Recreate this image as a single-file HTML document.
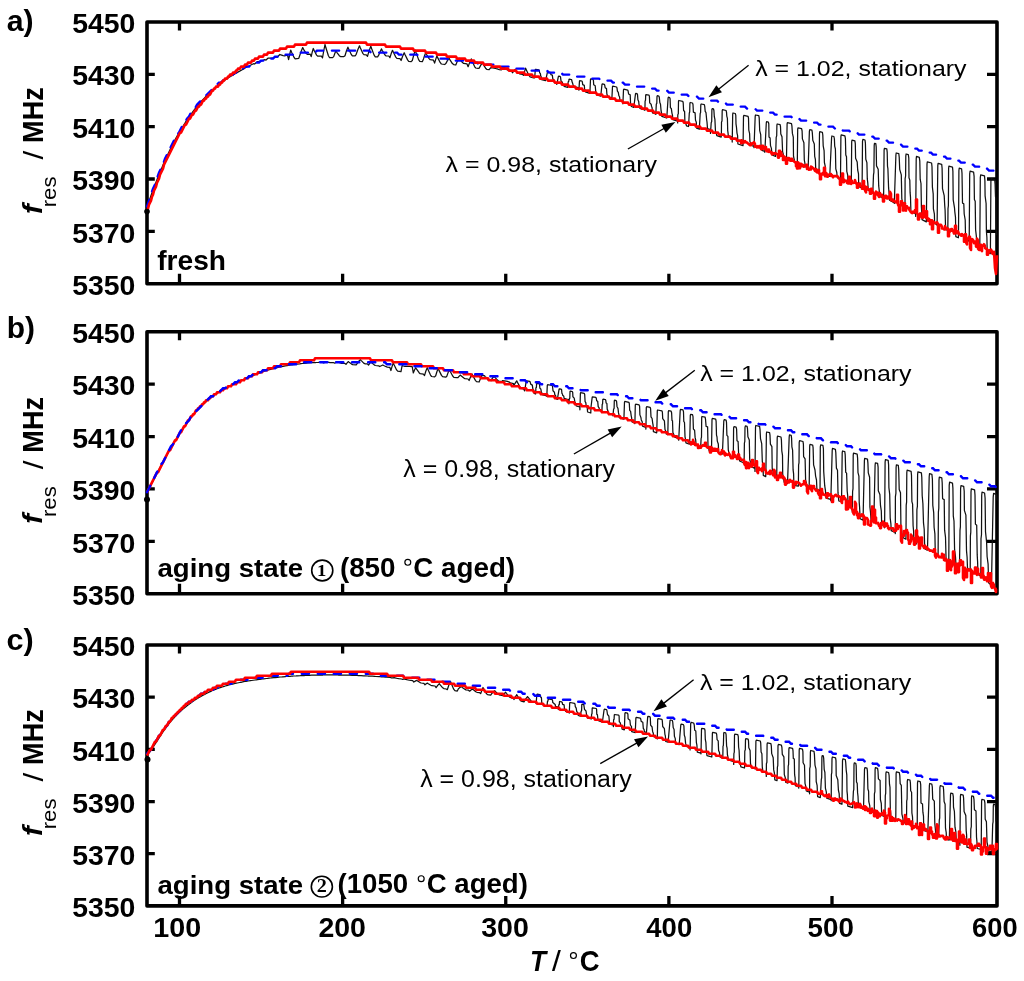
<!DOCTYPE html>
<html><head><meta charset="utf-8"><style>
html,body{margin:0;padding:0;background:#fff;width:1024px;height:981px;overflow:hidden}
svg{display:block;position:absolute;left:0;top:0}
text{-webkit-font-smoothing:antialiased}
</style></head><body>
<svg width="1024" height="981" viewBox="0 0 1024 981">
<rect x="147.00" y="22.00" width="850.00" height="261.70" fill="none" stroke="#000" stroke-width="3.6" stroke-linejoin="round"/>
<path d="M179.50,22.00v8.4M179.50,283.70v-9.9M342.62,22.00v8.4M342.62,283.70v-9.9M505.75,22.00v8.4M505.75,283.70v-9.9M668.88,22.00v8.4M668.88,283.70v-9.9M832.00,22.00v8.4M832.00,283.70v-9.9M147.00,74.34h7.8M997.00,74.34h-10M147.00,126.68h7.8M997.00,126.68h-10M147.00,179.02h7.8M997.00,179.02h-10M147.00,231.36h7.8M997.00,231.36h-10" stroke="#000" stroke-width="3.3" fill="none"/>
<clipPath id="cp0"><rect x="145.0" y="22.0" width="854.0" height="261.7"/></clipPath>
<g clip-path="url(#cp0)" fill="none">
<path d="M147.8 204.9 151.0 195.5 152.2 192.3 153.5 188.7 154.8 185.3 155.7 182.9 158.2 176.4 159.4 173.6 162.5 166.2 163.6 163.5 165.2 160.0 166.7 156.6 167.6 154.7 170.1 149.5 171.3 147.1 173.9 142.1 175.0 139.9 176.1 137.9 177.2 135.9 178.2 134.2 180.7 129.9 181.8 128.0 185.3 122.5 186.4 120.7 188.0 118.5 189.5 116.3 190.4 115.0 192.9 111.6 194.0 110.1 196.7 106.7 197.8 105.3 199.2 103.6 200.7 102.0 201.6 101.0 204.1 98.3 205.2 97.1 208.1 94.2 209.2 93.1 210.4 92.0 211.5 90.9 212.4 90.1 214.9 87.9 216.1 87.0 219.5 84.2 220.6 83.4 221.9 82.4 223.2 81.4 224.1 80.8 226.6 79.1 227.7 78.3 230.8 76.3 231.9 75.6 233.1 74.9 234.3 74.2 235.2 73.7 237.7 72.3 238.8 71.6 242.2 69.7 243.3 69.2 244.6 68.3 245.9 67.4 246.8 67.0 249.3 65.8 250.4 65.2 253.5 63.7 254.6 64.0 256.0 62.8 257.3 61.7 258.2 61.6 260.7 61.2 261.8 60.9 264.8 59.7 266.0 60.1 267.1 59.0 268.2 58.0 269.1 58.0 271.6 58.1 272.7 58.0 276.2 57.0 277.3 57.2 278.6 55.8 279.9 54.5 280.8 54.8 283.2 55.6 284.4 55.8 287.5 55.2 288.6 59.7 289.7 54.5 290.7 50.1 291.6 52.3 294.1 57.5 295.2 58.8 298.8 58.3 299.9 55.0 301.3 51.0 302.7 47.6 303.6 49.3 306.1 53.4 307.2 54.4 310.1 54.1 311.2 56.6 312.2 52.2 313.3 48.5 314.2 50.5 316.6 55.1 317.8 56.2 321.3 56.0 322.5 57.9 323.8 50.5 325.0 44.5 325.9 47.8 328.4 55.7 329.6 57.7 332.6 57.6 333.7 56.6 334.8 53.5 335.9 50.8 336.8 52.3 339.3 55.7 340.4 56.6 343.9 56.6 345.0 55.7 346.4 51.0 347.9 47.2 348.8 49.3 351.3 54.5 352.4 55.8 355.1 55.9 356.2 54.3 357.8 49.7 359.5 45.8 360.4 48.0 362.8 53.3 364.0 54.7 366.3 54.8 367.5 56.3 369.1 50.7 370.8 46.2 371.7 48.8 374.1 55.1 375.3 56.8 377.6 56.9 378.7 55.2 380.1 51.7 381.4 48.9 382.3 50.6 384.8 54.7 385.9 55.8 388.8 56.0 389.9 57.7 391.2 53.6 392.5 50.3 393.4 52.3 395.8 57.1 396.9 58.3 400.0 58.6 401.1 60.5 402.6 56.2 404.2 52.7 405.1 54.8 407.6 59.9 408.7 61.3 411.2 61.6 412.3 60.5 413.8 54.8 415.3 50.2 416.2 52.9 418.6 59.6 419.8 61.3 422.3 61.7 423.5 58.9 424.6 55.5 425.7 52.8 426.6 54.5 429.1 58.6 430.2 59.7 433.5 60.2 434.6 63.1 435.8 59.1 436.9 55.9 437.8 57.9 440.3 62.7 441.4 64.0 444.7 64.5 445.8 63.6 447.4 60.6 449.1 58.3 450.0 59.9 452.4 63.6 453.6 64.6 455.8 65.0 456.9 62.3 458.1 60.1 459.2 58.3 460.1 59.5 462.5 62.6 463.6 63.4 467.0 63.9 468.1 66.7 469.7 62.4 471.3 58.9 472.2 61.2 474.6 66.6 475.7 68.0 478.1 68.4 479.2 68.1 480.8 65.1 482.3 62.7 483.2 64.3 485.6 68.2 486.7 69.3 489.2 69.7 490.3 68.2 490.5 67.9 490.9 68.0 491.1 67.6 491.5 67.6 495.3 68.3 495.7 68.4 496.0 68.6 497.5 68.9 498.1 69.3 498.8 69.4 499.3 69.6 501.3 69.8 501.4 69.3 502.5 67.9 503.5 66.8 504.4 67.6 506.8 69.6 508.0 70.2 511.4 70.7 512.5 72.8 513.8 70.9 515.1 69.5 516.0 70.6 518.4 73.1 519.5 73.8 522.5 74.4 523.6 75.3 524.6 71.4 525.6 68.2 526.5 70.2 528.9 75.4 530.1 76.9 533.6 77.8 534.7 77.8 535.3 69.6 535.7 69.3 538.8 69.8 539.2 70.4 539.7 72.8 540.4 73.7 540.7 75.9 541.2 76.8 541.5 79.6 545.6 80.7 545.7 80.1 547.4 72.3 547.8 72.0 550.2 72.4 550.6 73.1 550.9 74.7 552.3 75.2 552.8 78.9 553.9 79.8 554.2 82.4 556.7 83.1 556.8 84.4 558.4 76.4 558.7 76.1 560.0 76.3 560.5 76.9 561.0 80.9 562.3 82.3 562.8 84.0 563.6 85.0 564.1 86.4 567.7 87.4 567.8 84.8 568.3 81.5 568.8 81.3 569.0 79.3 569.3 79.2 571.3 79.5 571.7 80.0 572.2 82.3 572.6 83.1 573.2 85.3 573.8 86.0 574.2 86.6 578.8 87.9 578.9 90.1 579.5 80.9 579.8 80.6 581.9 81.0 582.3 81.7 582.7 84.6 584.3 85.4 584.6 88.9 585.0 89.9 585.4 91.9 589.8 93.3 589.9 93.0 590.5 79.4 590.8 78.9 593.0 79.4 593.4 80.3 593.7 84.8 595.2 85.7 595.8 92.0 596.4 93.4 596.8 95.0 600.8 96.2 600.9 94.7 602.0 84.3 602.4 83.9 604.3 84.4 604.7 85.1 605.2 87.8 606.5 88.6 606.9 94.3 607.4 95.3 607.9 96.8 611.8 98.0 611.9 98.3 612.5 86.6 612.8 86.2 616.6 87.0 617.0 87.9 617.4 91.1 618.3 92.4 618.9 95.8 619.6 97.0 620.0 100.8 622.8 101.7 622.9 103.8 623.5 89.7 623.8 89.2 627.7 90.1 628.1 91.1 628.6 94.0 630.2 94.9 630.6 104.0 631.0 105.4 631.4 106.5 633.8 107.3 633.9 106.5 635.5 93.8 635.8 93.4 637.0 93.6 637.5 94.6 637.9 99.7 638.7 101.5 639.0 104.6 639.6 105.9 639.9 108.5 644.7 110.0 644.9 110.3 645.1 101.0 645.5 100.3 645.7 95.1 646.0 94.6 649.0 95.1 649.4 96.2 649.7 102.9 651.1 104.2 651.5 106.2 652.1 107.7 652.4 112.8 655.7 113.9 655.8 114.4 656.3 104.1 656.8 103.3 657.0 96.4 657.3 95.7 658.8 96.0 659.3 97.3 659.8 102.5 660.5 104.2 661.1 111.0 661.5 112.7 661.8 116.4 666.7 118.0 666.8 117.6 668.1 98.0 668.4 97.2 669.6 97.5 670.1 98.8 670.4 107.7 671.3 108.4 672.0 113.3 672.5 115.2 672.8 119.6 677.6 121.2 677.7 122.9 677.8 114.8 678.3 113.8 678.5 101.4 678.8 100.5 682.7 101.3 683.2 102.8 683.6 110.5 684.6 111.5 684.9 121.7 685.9 124.0 686.5 125.8 688.5 126.5 688.6 125.5 689.3 113.0 689.7 112.0 689.9 103.4 690.2 102.5 692.5 103.0 693.0 104.5 693.4 112.2 695.1 112.9 695.5 120.1 696.3 122.3 696.6 128.2 699.4 129.2 699.5 125.9 700.2 113.4 700.6 112.4 700.8 104.8 701.2 104.0 704.3 104.6 704.7 106.1 705.2 111.4 706.0 112.7 706.7 120.0 707.0 122.0 707.5 128.6 710.3 129.6 710.5 133.4 711.2 122.7 711.7 121.6 711.9 109.5 712.2 108.6 713.5 108.8 713.9 110.5 714.3 116.5 714.9 119.4 715.5 131.7 716.5 134.2 716.8 135.6 721.2 137.1 721.4 133.5 721.5 122.1 722.0 121.0 722.2 110.6 722.5 109.7 726.1 110.5 726.5 112.1 726.8 116.1 727.4 118.4 727.7 130.5 728.0 132.6 728.3 135.8 732.1 137.1 732.2 142.1 732.7 114.1 733.0 113.0 735.3 113.5 735.8 115.4 736.0 123.8 736.5 127.5 737.0 133.1 737.6 135.7 737.9 144.0 743.0 145.7 743.1 142.8 743.5 116.4 743.8 115.4 748.1 116.4 748.5 118.1 748.8 130.2 749.6 133.6 749.9 141.4 750.9 144.0 751.4 145.5 753.9 146.3 754.0 147.7 755.2 116.3 755.5 115.0 758.8 115.7 759.2 117.8 759.7 130.7 760.7 134.6 761.0 144.5 761.6 147.4 761.9 150.4 764.7 151.4 764.8 152.3 766.3 122.8 766.6 121.6 768.3 122.0 768.8 124.0 769.0 137.0 770.1 138.0 770.5 145.6 771.4 148.4 772.0 155.0 775.6 156.4 775.7 153.4 776.2 137.2 776.7 135.9 776.9 125.1 777.2 124.0 780.1 124.6 780.5 126.6 780.8 134.0 782.0 136.8 782.6 151.7 783.4 154.6 783.8 157.0 786.4 158.2 786.5 157.9 787.1 124.0 787.4 122.7 791.5 123.6 791.9 125.9 792.4 133.4 793.3 137.2 793.5 156.2 794.2 159.5 794.7 161.7 797.2 162.8 797.3 163.5 797.7 129.2 798.0 127.8 801.6 128.7 802.1 131.0 802.4 138.9 803.9 142.8 804.3 160.0 804.9 163.2 805.1 166.7 808.1 167.8 808.2 166.2 809.4 131.1 809.8 129.6 811.9 130.1 812.3 132.5 812.8 140.3 814.3 143.9 814.7 156.3 815.4 159.5 815.7 168.9 818.9 170.0 819.0 173.0 819.5 133.3 819.8 131.7 822.4 132.3 822.8 135.0 823.2 145.8 824.1 150.7 824.4 162.5 825.2 166.1 825.4 175.1 829.6 176.4 829.8 175.3 831.6 137.5 831.9 136.0 833.9 136.5 834.4 139.0 834.7 146.2 835.4 149.0 835.8 168.9 836.8 172.5 837.2 177.7 840.4 178.8 840.5 177.6 840.9 136.6 841.2 134.9 844.9 135.9 845.4 138.6 845.8 155.0 846.5 156.8 846.8 171.4 847.7 175.2 847.9 180.1 851.2 181.3 851.3 183.7 851.7 141.8 852.0 140.1 854.9 140.9 855.3 143.6 855.6 158.2 857.2 162.1 857.7 170.0 858.5 173.9 858.7 186.6 862.0 188.0 862.1 187.7 862.5 141.3 862.9 139.4 865.0 140.0 865.4 143.1 865.8 159.2 866.9 162.6 867.3 178.9 867.8 183.1 868.3 190.4 872.7 192.4 872.8 193.2 873.5 174.8 873.9 172.4 874.2 145.3 874.5 143.3 875.8 143.7 876.2 146.8 876.5 165.9 878.2 169.2 878.7 185.9 879.2 190.3 879.5 196.4 883.5 198.3 883.6 197.3 884.1 150.2 884.4 148.3 886.8 148.9 887.2 152.1 887.5 166.2 887.9 168.6 888.6 187.9 889.0 192.1 889.5 200.2 894.2 202.6 894.3 203.4 895.9 155.0 896.2 153.0 898.8 153.7 899.2 157.0 899.7 169.3 901.3 174.9 901.8 198.6 902.7 203.3 903.2 208.0 904.9 208.9 905.0 208.5 905.1 178.6 905.6 176.0 905.8 156.1 906.1 154.0 908.3 154.6 908.8 158.1 909.0 177.7 909.8 180.1 910.1 192.4 910.5 197.1 910.9 211.5 915.6 214.0 915.7 216.4 916.2 158.8 916.5 156.4 919.3 157.3 919.8 161.1 920.2 179.4 921.0 183.5 921.4 206.7 921.7 211.8 922.0 219.6 926.3 221.9 926.4 219.4 927.0 164.0 927.3 161.8 931.6 163.0 932.0 166.7 932.4 187.2 933.2 193.8 933.4 208.9 934.4 214.1 934.6 223.5 937.0 224.7 937.1 225.4 937.8 165.7 938.1 163.3 941.7 164.3 942.1 168.3 942.5 188.6 944.2 195.6 944.7 205.1 945.1 210.3 945.6 229.5 947.7 230.5 947.8 232.8 948.0 208.7 948.4 205.5 948.6 168.7 948.9 166.1 952.5 167.1 952.9 171.3 953.2 199.9 954.5 207.8 954.8 211.6 955.5 217.4 955.8 236.6 958.4 237.8 958.5 235.8 958.9 170.8 959.2 168.2 961.6 168.8 962.0 173.1 962.5 203.1 963.8 203.7 964.2 214.0 965.2 220.0 965.6 239.3 969.0 241.1 969.2 240.4 969.7 173.8 970.1 171.1 973.6 172.1 974.1 176.4 974.4 199.5 975.2 201.3 975.6 229.7 976.3 235.8 976.8 244.4 979.7 246.0 979.8 247.4 980.3 177.7 980.7 174.9 984.5 175.9 984.9 180.5 985.1 195.8 986.1 203.5 986.4 231.2 986.9 237.5 987.2 251.7 990.3 253.6 990.4 251.1 990.9 181.5 991.2 178.6 994.7 179.6 995.1 184.1 995.5 196.6 995.9 198.0 996.2 229.1 996.6 235.3" stroke="#111" stroke-width="1.25" stroke-linejoin="round"/>
<path d="M147.0 206.6 149.0 200.6 151.0 194.6 153.0 188.6 155.0 184.6 157.0 178.6 159.0 172.6 161.0 168.6 163.0 164.6 165.0 158.6 167.0 154.6 169.0 150.6 171.0 146.6 173.0 142.6 175.0 138.6 177.0 134.6 179.0 132.6 181.0 128.6 183.0 124.6 185.0 122.6 187.0 118.6 189.0 116.6 191.0 112.6 193.0 110.6 195.0 108.6 197.0 104.6 199.0 102.6 201.0 100.6 203.0 98.6 205.0 96.6 207.0 94.6 209.0 92.6 211.0 90.6 213.0 88.6 215.0 86.6 217.0 84.6 219.0 82.6 221.0 82.6 223.0 80.6 225.0 78.6 227.0 78.6 229.0 76.6 231.0 74.6 233.0 74.6 235.0 72.6 237.0 72.6 239.0 70.6 241.0 68.6 243.0 68.6 245.0 66.6 249.0 66.6 251.0 64.6 253.0 64.6 255.0 62.6 259.0 62.6 261.0 60.6 265.0 60.6 267.0 58.6 273.0 58.6 275.0 56.6 281.0 56.6 283.0 54.6 293.0 54.6 295.0 52.6 315.0 52.6 317.0 50.6 369.0 50.6 371.0 52.6 397.0 52.6 399.0 54.6 417.0 54.6 419.0 56.6 433.0 56.6 435.0 58.6 447.0 58.6 449.0 60.6 463.0 60.6 465.0 62.6 477.0 62.6 479.0 64.6 495.0 64.6 497.0 66.6 511.0 66.6 513.0 68.6 529.0 68.6 531.0 70.6 547.0 70.6 549.0 72.6 561.0 72.6 563.0 74.6 575.0 74.6 577.0 76.6 587.0 76.6 589.0 78.6 599.0 78.6 601.0 80.6 611.0 80.6 613.0 82.6 623.0 82.6 625.0 84.6 635.0 84.6 637.0 86.6 645.0 86.6 647.0 88.6 655.0 88.6 657.0 90.6 667.0 90.6 669.0 92.6 677.0 92.6 679.0 94.6 687.0 94.6 689.0 96.6 697.0 96.6 699.0 98.6 707.0 98.6 709.0 100.6 717.0 100.6 719.0 102.6 725.0 102.6 727.0 104.6 735.0 104.6 737.0 106.6 745.0 106.6 747.0 108.6 755.0 108.6 757.0 110.6 763.0 110.6 765.0 112.6 773.0 112.6 775.0 114.6 781.0 114.6 783.0 116.6 791.0 116.6 793.0 118.6 799.0 118.6 801.0 120.6 809.0 120.6 811.0 122.6 817.0 122.6 819.0 124.6 825.0 124.6 827.0 126.6 833.0 126.6 835.0 128.6 841.0 128.6 843.0 130.6 849.0 130.6 851.0 132.6 857.0 132.6 859.0 134.6 865.0 134.6 867.0 136.6 873.0 136.6 875.0 138.6 881.0 138.6 883.0 140.6 887.0 140.6 889.0 142.6 895.0 142.6 897.0 144.6 901.0 144.6 903.0 146.6 909.0 146.6 911.0 148.6 917.0 148.6 919.0 150.6 923.0 150.6 925.0 152.6 931.0 152.6 933.0 154.6 937.0 154.6 939.0 156.6 945.0 156.6 947.0 158.6 951.0 158.6 953.0 160.6 959.0 160.6 961.0 162.6 965.0 162.6 967.0 164.6 973.0 164.6 975.0 166.6 979.0 166.6 981.0 168.6 987.0 168.6 989.0 170.6 995.0 170.6 997.0 172.6" stroke="#0000ff" stroke-width="2.4" stroke-linecap="round" stroke-dasharray="7.2 8.8"/>
<path d="M147.0 210.6 148.0 208.6 149.0 204.6 150.0 202.6 151.0 200.6 152.0 196.6 153.0 194.6 154.0 190.6 155.0 188.6 156.0 186.6 157.0 182.6 158.0 180.6 159.0 178.6 160.0 174.6 161.0 172.6 162.0 170.6 163.0 168.6 164.0 164.6 165.0 162.6 166.0 160.6 167.0 158.6 168.0 156.6 169.0 154.6 170.0 152.6 171.0 150.6 172.0 148.6 173.0 146.6 174.0 144.6 175.0 142.6 176.0 140.6 177.0 138.6 178.0 136.6 179.0 134.6 180.0 132.6 181.0 132.6 182.0 130.6 183.0 128.6 184.0 126.6 185.0 124.6 186.0 124.6 187.0 122.6 188.0 120.6 189.0 118.6 190.0 118.6 191.0 116.6 192.0 114.6 193.0 114.6 194.0 112.6 195.0 110.6 196.0 110.6 197.0 108.6 198.0 106.6 199.0 106.6 200.0 104.6 201.0 104.6 202.0 102.6 203.0 100.6 204.0 100.6 205.0 98.6 206.0 98.6 207.0 96.6 208.0 96.6 209.0 94.6 210.0 94.6 211.0 92.6 212.0 90.6 213.0 90.6 214.0 88.6 215.0 88.6 216.0 86.6 217.0 86.6 218.0 86.6 219.0 84.6 220.0 84.6 221.0 82.6 222.0 82.6 223.0 80.6 224.0 80.6 225.0 78.6 226.0 78.6 227.0 78.6 228.0 76.6 229.0 76.6 230.0 74.6 231.0 74.6 232.0 74.6 233.0 72.6 234.0 72.6 235.0 72.6 236.0 70.6 237.0 70.6 238.0 68.6 239.0 68.6 240.0 68.6 241.0 66.6 242.0 66.6 243.0 66.6 244.0 66.6 245.0 64.6 246.0 64.6 247.0 64.6 248.0 62.6 249.0 62.6 250.0 62.6 251.0 62.6 252.0 60.6 253.0 60.6 254.0 60.6 255.0 58.6 256.0 58.6 257.0 58.6 258.0 58.6 259.0 56.6 260.0 56.6 261.0 56.6 262.0 56.6 263.0 56.6 264.0 54.6 265.0 54.6 266.0 54.6 267.0 54.6 268.0 52.6 269.0 52.6 270.0 52.6 271.0 52.6 272.0 52.6 273.0 52.6 274.0 50.6 275.0 50.6 276.0 50.6 277.0 50.6 278.0 50.6 279.0 50.6 280.0 48.6 281.0 48.6 282.0 48.6 283.0 48.6 284.0 48.6 285.0 48.6 286.0 48.6 287.0 46.6 288.0 46.6 289.0 46.6 290.0 46.6 291.0 46.6 292.0 46.6 293.0 46.6 294.0 46.6 295.0 44.6 296.0 44.6 297.0 44.6 298.0 44.6 299.0 44.6 300.0 44.6 301.0 44.6 302.0 44.6 303.0 44.6 304.0 44.6 305.0 44.6 306.0 44.6 307.0 42.6 308.0 42.6 309.0 42.6 310.0 42.6 311.0 42.6 312.0 42.6 313.0 42.6 314.0 42.6 315.0 42.6 316.0 42.6 317.0 42.6 318.0 42.6 319.0 42.6 320.0 42.6 321.0 42.6 322.0 42.6 323.0 42.6 324.0 42.6 325.0 42.6 326.0 42.6 327.0 42.6 328.0 42.6 329.0 42.6 330.0 42.6 331.0 42.6 332.0 42.6 333.0 42.6 334.0 42.6 335.0 42.6 336.0 42.6 337.0 42.6 338.0 42.6 339.0 42.6 340.0 42.6 341.0 42.6 342.0 42.6 343.0 42.6 344.0 42.6 345.0 42.6 346.0 42.6 347.0 42.6 348.0 42.6 349.0 42.6 350.0 42.6 351.0 42.6 352.0 42.6 353.0 42.6 354.0 42.6 355.0 42.6 356.0 42.6 357.0 42.6 358.0 42.6 359.0 42.6 360.0 42.6 361.0 42.6 362.0 42.6 363.0 42.6 364.0 42.6 365.0 42.6 366.0 42.6 367.0 44.6 368.0 44.6 369.0 44.6 370.0 44.6 371.0 44.6 372.0 44.6 373.0 44.6 374.0 44.6 375.0 44.6 376.0 44.6 377.0 44.6 378.0 44.6 379.0 44.6 380.0 44.6 381.0 44.6 382.0 44.6 383.0 44.6 384.0 44.6 385.0 44.6 386.0 46.6 387.0 46.6 388.0 46.6 389.0 46.6 390.0 46.6 391.0 46.6 392.0 46.6 393.0 46.6 394.0 46.6 395.0 46.6 396.0 46.6 397.0 46.6 398.0 46.6 399.0 46.6 400.0 46.6 401.0 48.6 402.0 48.6 403.0 48.6 404.0 48.6 405.0 48.6 406.0 48.6 407.0 48.6 408.0 48.6 409.0 48.6 410.0 48.6 411.0 48.6 412.0 48.6 413.0 48.6 414.0 50.6 415.0 50.6 416.0 50.6 417.0 50.6 418.0 50.6 419.0 50.6 420.0 50.6 421.0 50.6 422.0 50.6 423.0 50.6 424.0 50.6 425.0 50.6 426.0 52.6 427.0 52.6 428.0 52.6 429.0 52.6 430.0 52.6 431.0 52.6 432.0 52.6 433.0 52.6 434.0 52.6 435.0 52.6 436.0 52.6 437.0 54.6 438.0 54.6 439.0 54.6 440.0 54.6 441.0 54.6 442.0 54.6 443.0 54.6 444.0 54.6 445.0 54.6 446.0 54.6 447.0 56.6 448.0 56.6 449.0 56.6 450.0 56.6 451.0 56.6 452.0 56.6 453.0 56.6 454.0 56.6 455.0 56.6 456.0 56.6 457.0 58.6 458.0 58.6 459.0 58.6 460.0 58.6 461.0 58.6 462.0 58.6 463.0 58.6 464.0 58.6 465.0 58.6 466.0 60.6 467.0 60.6 468.0 60.6 469.0 60.6 470.0 60.6 471.0 60.6 472.0 60.6 473.0 60.6 474.0 60.6 475.0 62.6 476.0 62.6 477.0 62.6 478.0 62.6 479.0 62.6 480.0 62.6 481.0 62.6 482.0 62.6 483.0 62.6 484.0 64.6 485.0 64.6 486.0 64.6 487.0 64.6 488.0 64.6 489.0 64.6 490.0 64.6 491.0 64.6 492.0 66.6 493.0 66.6 494.0 66.6 495.0 66.6 496.0 66.6 497.0 66.6 498.0 66.6 499.0 66.6 500.0 66.6 501.0 68.6 502.0 68.6 503.0 68.6 504.0 68.6 505.0 68.6 506.0 68.6 507.0 68.6 508.0 68.6 509.0 70.6 510.0 70.6 511.0 70.6 512.0 70.6 513.0 70.6 514.0 70.6 515.0 70.6 516.0 70.6 517.0 72.6 518.0 72.6 519.0 72.6 520.0 72.6 521.0 72.6 522.0 72.6 523.0 72.6 524.0 72.6 525.0 74.6 526.0 74.6 527.0 74.6 528.0 74.6 529.0 74.6 530.0 74.6 531.0 74.6 532.0 74.6 533.0 76.6 534.0 76.6 535.0 76.6 536.0 76.6 537.0 76.6 538.0 76.6 539.0 76.6 540.0 78.6 541.0 78.6 542.0 78.6 543.0 78.6 544.0 78.6 545.0 78.6 546.0 78.6 547.0 78.6 548.0 80.6 549.0 80.6 550.0 80.6 551.0 80.6 552.0 80.6 553.0 80.6 554.0 80.6 555.0 82.6 556.0 82.6 557.0 82.6 558.0 82.6 559.0 82.6 560.0 82.6 561.0 82.6 562.0 84.6 563.0 84.6 564.0 84.6 565.0 84.6 566.0 84.6 567.0 84.6 568.0 84.6 569.0 86.6 570.0 86.6 571.0 86.6 572.0 86.6 573.0 86.6 574.0 86.6 575.0 86.6 576.0 88.6 577.0 88.6 578.0 88.6 579.0 88.6 580.0 88.6 581.0 88.6 582.0 88.6 583.0 90.6 584.0 90.6 585.0 90.6 586.0 90.6 587.0 90.6 588.0 90.6 589.0 90.6 590.0 92.6 591.0 92.6 592.0 92.6 593.0 92.6 594.0 92.6 595.0 92.6 596.0 92.6 597.0 94.6 598.0 94.6 599.0 94.6 600.0 94.6 601.0 94.6 602.0 94.6 603.0 96.6 604.0 96.6 605.0 96.6 606.0 96.6 607.0 96.6 608.0 96.6 609.0 96.6 610.0 98.6 611.0 98.6 612.0 98.6 613.0 98.6 614.0 98.6 615.0 98.6 616.0 100.6 617.0 100.6 618.0 100.6 619.0 100.6 620.0 100.6 621.0 100.6 622.0 100.6 623.0 102.6 624.0 102.6 625.0 102.6 626.0 102.6 627.0 102.6 628.0 102.6 629.0 104.6 630.0 104.6 631.0 104.6 632.0 104.6 633.0 104.6 634.0 104.6 635.0 106.6 636.0 106.6 637.0 106.6 638.0 106.6 639.0 106.6 640.0 106.6 641.0 106.6 642.0 108.6 643.0 108.6 644.0 108.6 645.0 108.6 646.0 108.6 647.0 108.6 648.0 110.6 649.0 110.6 650.0 110.6 651.0 110.6 652.0 110.6 653.0 110.6 654.0 112.6 655.0 112.6 656.0 112.6 657.0 112.6 658.0 112.6 659.0 112.6 660.0 114.6 661.0 114.6 662.0 114.6 663.0 114.6 664.0 114.6 665.0 114.6 666.0 116.6 667.0 116.6 668.0 116.6 669.0 116.6 670.0 116.6 671.0 116.6 672.0 118.6 673.0 118.6 674.0 118.6 675.0 118.6 676.0 118.6 677.0 118.6 678.0 120.6 679.0 120.6 680.0 120.6 681.0 120.6 682.0 120.6 683.0 120.6 684.0 122.6 685.0 122.6 686.0 122.6 687.0 122.6 688.0 122.6 689.0 122.6 690.0 124.6 691.0 124.6 692.0 124.6 693.0 124.6 694.0 124.6 695.0 124.6 696.0 126.6 697.0 126.6 698.0 126.6 699.0 126.6 700.0 126.6 701.0 128.6 702.0 128.6 703.0 128.6 704.0 128.6 705.0 128.6 706.0 128.6 707.0 130.6 708.0 130.6 709.0 130.6 710.0 130.6 711.0 130.6 712.0 130.6 713.0 132.6 714.0 132.6 715.0 132.6 716.0 132.6 717.0 132.6 718.0 132.6 719.0 134.6 720.0 134.6 721.0 134.6 722.0 134.6 723.0 134.6 724.0 134.6 725.0 136.6 726.0 136.6 727.0 136.6 728.0 136.6 729.0 136.6 730.0 136.6 731.0 138.6 732.0 138.6 733.0 138.6 734.0 138.6 735.0 138.6 736.0 138.6 737.0 140.6 738.0 140.6 739.0 140.6 740.0 140.6 741.0 140.6 741.0 143.1 742.0 143.1 742.0 140.2 743.0 141.6 744.0 142.5 745.0 141.1 746.0 142.4 747.0 142.5 748.0 143.5 749.0 144.4 750.0 145.1 751.0 145.1 751.0 143.4 752.0 144.1 753.0 143.0 754.0 142.2 755.0 144.2 755.0 146.6 756.0 146.1 757.0 147.4 758.0 146.0 759.0 147.4 760.0 145.9 761.0 149.1 762.0 149.1 762.0 145.8 763.0 145.8 763.0 147.9 764.0 148.9 765.0 148.9 765.0 147.0 766.0 147.0 766.0 150.4 767.0 151.5 768.0 151.5 768.0 149.5 769.0 149.5 769.0 152.0 770.0 151.4 771.0 152.4 772.0 154.4 772.0 152.6 773.0 153.4 774.0 154.0 775.0 153.0 776.0 153.5 777.0 154.2 778.0 154.2 778.0 157.6 779.0 157.6 779.0 150.8 780.0 150.8 780.0 155.7 781.0 155.7 781.0 152.1 782.0 155.6 783.0 155.6 783.0 159.9 784.0 159.9 784.0 156.4 785.0 157.2 786.0 159.2 786.0 163.8 787.0 163.8 787.0 158.1 788.0 158.1 788.0 159.9 789.0 159.9 789.0 158.0 790.0 160.6 791.0 160.6 791.0 158.7 792.0 158.7 792.0 160.8 793.0 160.4 794.0 161.3 795.0 162.4 796.0 162.4 796.0 166.2 797.0 166.2 797.0 168.4 798.0 168.4 798.0 162.2 799.0 164.2 799.0 168.3 800.0 168.3 800.0 163.9 801.0 163.9 801.0 166.3 802.0 166.3 802.0 164.4 803.0 165.1 804.0 166.7 805.0 165.4 806.0 164.9 807.0 164.9 807.0 168.9 808.0 168.9 808.0 167.1 809.0 169.7 810.0 169.4 811.0 169.4 811.0 166.5 812.0 167.1 813.0 168.2 814.0 168.8 815.0 170.8 815.0 169.1 816.0 169.1 816.0 171.3 817.0 172.4 818.0 172.4 818.0 170.0 819.0 170.0 819.0 172.9 820.0 174.9 820.0 179.2 821.0 179.2 821.0 173.8 822.0 174.4 823.0 174.4 823.0 172.8 824.0 172.8 824.0 167.8 825.0 167.8 825.0 176.2 826.0 176.2 826.0 172.7 827.0 174.7 827.0 176.6 828.0 176.6 828.0 174.8 829.0 174.7 830.0 174.1 831.0 174.1 831.0 175.9 832.0 175.1 833.0 177.3 834.0 176.0 835.0 176.1 836.0 176.1 837.0 175.9 838.0 176.8 839.0 178.6 840.0 178.6 840.0 184.7 841.0 184.7 841.0 179.0 842.0 179.0 842.0 173.6 843.0 173.6 843.0 182.1 844.0 182.1 844.0 179.5 845.0 180.9 846.0 180.9 847.0 180.9 847.0 182.8 848.0 183.4 849.0 183.4 849.0 176.7 850.0 176.7 850.0 182.0 851.0 184.0 851.0 180.7 852.0 180.7 852.0 182.2 853.0 182.9 854.0 182.8 855.0 182.8 855.0 180.0 856.0 183.4 857.0 183.4 857.0 187.7 858.0 187.7 858.0 184.5 859.0 183.6 860.0 183.6 860.0 185.2 861.0 186.3 862.0 186.3 862.0 188.8 863.0 188.8 863.0 181.0 864.0 181.0 864.0 186.4 865.0 186.4 865.0 190.4 866.0 192.4 866.0 187.0 867.0 187.0 867.0 189.4 868.0 189.4 869.0 189.2 870.0 191.2 870.0 193.8 871.0 193.8 871.0 188.9 872.0 188.9 872.0 191.1 873.0 192.1 874.0 194.1 874.0 198.8 875.0 198.8 875.0 194.6 876.0 194.6 876.0 191.6 877.0 192.9 878.0 192.9 878.0 195.0 879.0 197.0 879.0 193.1 880.0 193.1 880.0 195.7 881.0 194.7 882.0 194.7 882.0 196.5 883.0 198.5 883.0 201.5 884.0 201.5 884.0 196.8 885.0 195.8 886.0 195.8 886.0 197.8 887.0 198.4 888.0 198.4 888.0 196.6 889.0 198.1 890.0 198.1 890.0 191.9 891.0 193.9 891.0 200.2 892.0 199.6 893.0 199.6 893.0 201.3 894.0 200.9 895.0 201.6 896.0 202.4 897.0 202.4 897.0 194.7 898.0 194.7 898.0 204.6 899.0 206.6 899.0 211.8 900.0 211.8 900.0 204.7 901.0 204.7 901.0 201.2 902.0 201.2 902.0 204.6 903.0 206.6 903.0 210.4 904.0 210.4 904.0 203.2 905.0 203.2 905.0 208.7 906.0 210.7 906.0 206.4 907.0 206.4 907.0 207.9 908.0 207.8 909.0 207.8 909.0 209.3 910.0 210.7 911.0 212.2 912.0 213.1 913.0 211.6 914.0 212.5 915.0 212.5 915.0 210.0 916.0 210.0 916.0 199.5 917.0 199.5 917.0 213.1 918.0 215.1 918.0 219.5 919.0 219.5 919.0 216.4 920.0 216.4 920.0 213.5 921.0 213.5 921.0 215.9 922.0 217.7 923.0 217.7 923.0 206.1 924.0 206.1 924.0 216.7 925.0 216.0 926.0 218.0 926.0 211.3 927.0 211.3 927.0 218.2 928.0 218.2 928.0 220.8 929.0 220.8 929.0 218.9 930.0 220.9 930.0 224.3 931.0 224.3 931.0 220.2 932.0 220.2 932.0 229.2 933.0 229.2 933.0 221.4 934.0 222.1 935.0 223.2 936.0 223.1 937.0 222.1 938.0 224.1 938.0 232.7 939.0 232.7 939.0 225.0 940.0 224.9 941.0 224.9 942.0 226.9 942.0 228.4 943.0 228.5 944.0 229.4 945.0 229.4 945.0 226.0 946.0 228.4 947.0 228.6 948.0 228.6 948.0 236.2 949.0 236.2 949.0 229.6 950.0 231.6 950.0 230.0 951.0 229.1 952.0 229.1 952.0 230.7 953.0 230.4 954.0 233.5 955.0 233.5 955.0 225.9 956.0 225.9 956.0 232.2 957.0 233.2 958.0 233.2 958.0 231.4 959.0 234.0 960.0 234.5 961.0 235.6 962.0 235.6 962.0 234.0 963.0 235.4 964.0 235.4 964.0 241.7 965.0 241.7 965.0 234.2 966.0 234.2 966.0 242.4 967.0 244.4 967.0 238.2 968.0 239.0 969.0 239.0 969.0 236.9 970.0 236.9 970.0 248.0 971.0 250.0 971.0 239.5 972.0 239.1 973.0 239.8 974.0 243.2 975.0 243.2 975.0 241.5 976.0 241.5 976.0 246.6 977.0 246.6 977.0 238.5 978.0 240.5 978.0 248.7 979.0 249.9 980.0 249.9 980.0 244.8 981.0 244.8 981.0 249.1 982.0 251.1 982.0 246.7 983.0 245.6 984.0 244.2 985.0 246.2 985.0 248.0 986.0 248.9 987.0 248.9 987.0 254.7 988.0 254.7 988.0 250.7 989.0 252.7 989.0 250.3 990.0 250.8 991.0 249.6 992.0 251.6 992.0 253.2 993.0 254.0 994.0 254.0 994.0 251.8 995.0 268.0 996.0 274.0 997.0 255.2" stroke="#ff0000" stroke-width="2.6" stroke-linejoin="round"/>
</g>
<rect x="147.00" y="331.75" width="850.00" height="262.00" fill="none" stroke="#000" stroke-width="3.6" stroke-linejoin="round"/>
<path d="M179.50,331.75v8.4M179.50,593.75v-9.9M342.62,331.75v8.4M342.62,593.75v-9.9M505.75,331.75v8.4M505.75,593.75v-9.9M668.88,331.75v8.4M668.88,593.75v-9.9M832.00,331.75v8.4M832.00,593.75v-9.9M147.00,384.15h7.8M997.00,384.15h-10M147.00,436.55h7.8M997.00,436.55h-10M147.00,488.95h7.8M997.00,488.95h-10M147.00,541.35h7.8M997.00,541.35h-10" stroke="#000" stroke-width="3.3" fill="none"/>
<clipPath id="cp1"><rect x="145.0" y="331.8" width="854.0" height="262.0"/></clipPath>
<g clip-path="url(#cp1)" fill="none">
<path d="M147.3 492.3 148.5 490.0 152.1 482.8 153.3 480.6 154.4 478.3 155.6 476.1 156.5 474.4 159.0 469.6 160.1 467.4 163.5 461.0 164.7 458.9 166.0 456.6 167.3 454.2 168.2 452.6 170.8 448.2 171.9 446.3 175.0 441.1 176.1 439.3 177.4 437.2 178.6 435.2 179.6 433.8 182.1 430.0 183.2 428.3 186.4 423.8 187.5 422.2 189.1 420.1 190.6 418.1 191.6 416.9 194.1 413.8 195.2 412.5 197.8 409.6 198.9 408.4 200.4 406.9 202.0 405.4 202.9 404.5 205.4 402.2 206.5 401.2 209.1 399.1 210.3 398.2 211.6 397.2 212.9 396.3 213.8 395.6 216.3 393.9 217.4 393.1 220.5 391.2 221.7 390.5 223.1 389.7 224.5 388.9 225.4 388.4 227.9 387.0 229.0 386.5 231.9 385.0 233.0 384.4 234.4 383.8 235.7 383.1 236.7 382.7 239.2 381.5 240.3 381.0 243.2 379.7 244.4 379.2 245.8 378.5 247.1 377.9 248.1 377.6 250.5 376.5 251.7 376.0 254.6 374.8 255.7 374.4 257.4 373.8 259.0 373.1 259.9 372.8 262.4 371.9 263.6 371.5 265.9 370.7 267.0 370.4 268.3 370.0 269.6 369.6 270.5 369.3 273.0 368.6 274.2 368.3 277.2 367.6 278.4 367.3 279.6 367.0 280.8 366.8 281.7 366.6 284.2 366.1 285.3 365.9 288.5 365.3 289.7 365.1 290.9 364.9 292.1 364.8 293.0 364.6 295.5 364.3 296.7 364.1 299.8 363.8 301.0 363.6 302.1 363.5 303.2 363.4 304.1 363.3 306.5 363.1 307.7 363.0 311.1 362.7 312.2 362.7 313.6 362.6 315.0 362.5 315.9 362.5 318.4 362.4 319.5 362.3 322.4 362.2 323.5 362.9 325.0 362.4 326.6 362.0 327.5 362.1 330.0 362.6 331.1 362.7 333.7 362.7 334.8 363.2 335.9 362.3 337.0 361.6 337.9 362.0 340.3 363.0 341.5 363.3 344.9 363.4 346.0 364.3 347.1 362.8 348.2 361.6 349.1 362.3 351.6 364.1 352.7 364.6 356.2 364.8 357.3 363.3 358.8 361.3 360.4 359.6 361.3 360.6 363.7 363.1 364.9 363.8 367.4 363.9 368.5 365.1 369.7 363.3 370.8 361.8 371.7 362.7 374.2 364.9 375.3 365.5 378.6 365.8 379.7 366.5 381.3 365.7 382.8 365.0 383.7 365.5 386.2 366.7 387.3 367.1 389.8 367.3 390.9 370.5 392.1 366.4 393.3 362.9 394.2 365.0 396.6 369.9 397.7 371.2 401.0 371.6 402.1 365.6 403.4 366.0 404.8 366.3 405.6 366.3 408.1 366.3 409.2 366.4 412.2 366.7 413.3 372.9 414.5 370.0 415.7 367.7 416.6 369.2 419.1 372.7 420.2 373.7 423.4 374.1 424.5 375.6 425.8 371.2 427.2 367.7 428.1 369.8 430.5 375.1 431.6 376.5 434.6 376.9 435.7 375.8 436.9 371.7 438.2 368.3 439.0 370.4 441.5 375.4 442.6 376.7 445.7 377.2 446.8 376.2 448.1 372.6 449.4 369.7 450.3 371.5 452.7 376.0 453.9 377.3 456.9 377.7 458.0 377.6 459.2 376.2 460.5 375.1 461.4 376.0 463.8 378.0 464.9 378.6 468.0 379.0 469.1 380.5 470.6 376.8 472.0 373.9 472.9 375.8 475.4 380.4 476.5 381.6 479.1 382.0 480.3 379.0 480.9 377.9 481.4 377.7 481.6 375.4 481.9 375.3 484.4 375.7 484.8 376.0 485.3 377.2 486.8 377.6 487.4 379.0 487.9 379.4 488.2 380.2 491.3 380.6 491.4 379.7 492.7 377.8 494.1 376.3 495.0 377.4 497.4 380.1 498.5 381.0 501.4 381.7 502.5 380.7 504.1 380.9 504.5 380.9 507.5 381.4 507.9 381.5 508.2 381.8 509.1 381.9 509.6 382.4 510.0 382.6 510.4 382.8 513.5 383.6 513.6 386.3 515.1 383.3 516.7 380.8 517.6 382.6 520.0 387.0 521.1 388.3 523.5 389.0 524.7 390.9 526.2 381.2 526.5 380.8 529.8 381.4 530.2 382.1 530.7 384.1 532.3 385.1 532.9 389.2 533.8 390.3 534.2 393.5 535.6 394.0 535.7 392.8 535.9 387.8 536.4 387.5 536.6 383.6 536.9 383.3 539.0 383.6 539.5 384.3 539.9 388.2 540.8 388.9 541.3 391.7 541.8 392.7 542.0 394.6 546.7 395.9 546.8 396.3 547.3 385.2 547.6 384.7 552.1 385.5 552.5 386.3 553.0 390.8 554.4 392.2 554.8 394.6 555.7 395.8 556.2 399.0 557.7 399.4 557.8 396.6 559.1 389.1 559.4 388.8 561.1 389.1 561.6 389.7 561.9 393.3 562.4 393.9 562.7 395.3 563.8 396.3 564.1 398.4 568.8 399.8 568.9 403.8 569.3 398.8 569.8 398.3 570.0 391.6 570.3 391.1 572.3 391.5 572.7 392.4 572.9 396.8 574.2 398.1 574.9 402.2 575.8 403.5 576.2 406.0 579.8 407.0 579.9 409.8 580.4 393.3 580.7 392.6 584.2 393.3 584.7 394.5 585.1 401.6 585.8 402.6 586.2 405.9 587.2 407.6 587.6 412.0 590.8 413.0 590.9 408.0 592.2 397.2 592.5 396.8 595.9 397.4 596.3 398.3 596.7 400.8 597.7 401.4 598.2 406.6 599.1 407.8 599.5 410.5 601.8 411.3 601.9 411.6 602.2 404.4 602.6 403.8 602.8 399.5 603.2 399.1 605.4 399.5 605.8 400.4 606.1 403.0 606.9 403.5 607.2 409.2 607.8 410.4 608.3 413.5 612.8 414.9 612.9 415.8 613.6 409.1 614.1 408.4 614.3 400.8 614.6 400.2 616.1 400.6 616.6 401.6 617.0 406.4 618.0 408.5 618.5 412.9 618.9 414.3 619.2 417.7 623.8 419.2 623.9 419.2 624.5 402.1 624.8 401.4 628.9 402.3 629.3 403.5 629.7 410.3 630.6 411.3 631.2 415.8 631.6 417.5 631.9 421.8 634.8 422.8 634.9 423.6 635.3 404.9 635.7 404.2 639.1 404.9 639.6 406.2 639.9 414.9 640.9 417.5 641.3 419.9 642.2 421.8 642.5 426.1 645.8 427.3 645.9 429.1 646.3 407.5 646.7 406.7 650.1 407.3 650.6 408.8 651.0 416.8 652.1 418.5 652.7 423.1 653.1 425.1 653.4 431.7 656.7 432.9 656.8 430.4 657.3 410.7 657.6 410.0 661.9 410.8 662.4 412.2 662.7 418.6 664.4 420.8 665.0 429.5 665.9 431.6 666.2 433.9 667.7 434.5 667.8 434.5 668.3 411.6 668.6 410.7 671.1 411.2 671.6 412.7 672.0 420.5 672.5 420.8 672.9 432.5 674.0 434.9 674.3 437.0 678.6 438.6 678.7 440.1 680.2 410.6 680.5 409.4 683.0 409.9 683.5 411.9 683.8 421.4 684.5 422.5 685.0 436.6 685.5 439.3 685.9 442.8 689.5 444.1 689.7 443.0 690.3 415.4 690.6 414.3 692.5 414.7 693.0 416.6 693.4 429.1 694.6 430.3 695.1 437.4 695.7 440.0 696.1 445.2 700.5 446.7 700.6 448.4 701.1 438.6 701.5 437.1 701.7 417.7 702.0 416.5 705.1 417.2 705.5 419.2 706.1 426.4 707.6 426.8 708.0 445.8 708.8 448.7 709.2 451.1 711.4 451.8 711.5 450.5 712.0 419.6 712.3 418.4 715.7 419.1 716.1 421.1 716.5 435.1 717.0 437.0 717.3 441.1 718.3 444.0 718.7 452.8 722.3 454.0 722.4 453.9 723.8 421.0 724.2 419.7 726.1 420.1 726.5 422.3 726.9 435.3 727.9 436.4 728.3 450.2 729.2 453.3 729.7 456.5 733.2 457.8 733.3 458.4 733.6 427.9 734.0 426.7 736.1 427.2 736.6 429.2 737.0 440.7 738.1 441.5 738.6 453.6 739.2 456.4 739.6 461.0 744.0 463.0 744.1 463.3 744.4 443.1 744.8 441.4 745.0 427.3 745.4 425.9 747.1 426.3 747.5 428.7 747.9 436.8 749.3 440.0 749.7 459.5 750.7 463.1 751.1 466.6 754.9 468.4 755.0 471.4 755.5 427.3 755.8 425.5 759.6 426.4 760.0 429.3 760.5 438.7 761.7 443.6 762.3 461.3 763.0 465.4 763.3 475.4 765.7 476.6 765.9 472.1 766.4 433.5 766.7 432.0 769.6 432.6 770.0 435.2 770.4 444.2 771.9 446.6 772.2 468.3 773.2 472.0 773.6 475.6 776.6 476.9 776.7 479.4 777.2 437.9 777.5 436.2 781.0 437.0 781.4 439.8 781.8 450.8 782.5 455.4 782.7 474.1 783.6 478.0 784.1 482.3 787.4 483.4 787.5 483.5 789.2 436.8 789.5 434.9 791.2 435.3 791.6 438.4 791.9 446.9 792.6 450.2 793.1 469.9 793.6 473.9 793.9 485.3 798.3 486.1 798.4 483.6 798.6 464.8 799.0 462.8 799.2 442.3 799.6 440.6 803.0 441.5 803.4 444.2 803.6 456.6 805.1 458.8 805.6 479.8 806.4 483.5 806.7 485.6 809.1 486.6 809.2 484.8 809.7 445.9 810.0 444.4 812.7 445.1 813.1 447.7 813.6 464.9 815.0 470.0 815.6 476.1 816.5 480.0 816.9 489.0 819.9 490.7 820.0 495.2 820.3 446.8 820.7 444.8 822.9 445.4 823.4 448.6 823.7 471.2 824.1 477.0 824.7 485.7 825.4 490.1 826.0 498.1 830.7 499.4 830.8 500.7 832.2 450.5 832.5 448.4 835.4 449.3 835.8 452.5 836.4 468.1 837.5 470.2 838.0 492.9 838.4 497.0 838.8 501.0 841.4 501.6 841.6 497.5 842.2 452.8 842.5 451.0 844.8 451.7 845.2 454.7 845.7 472.3 846.6 473.1 847.2 491.2 847.7 495.7 848.1 503.0 852.2 509.4 852.3 512.1 852.6 491.4 853.0 488.8 853.2 455.4 853.5 453.1 857.2 454.2 857.6 458.1 858.0 472.7 858.9 476.1 859.2 502.1 859.6 507.3 860.1 518.7 863.0 520.1 863.1 517.6 864.4 460.6 864.7 458.3 867.5 459.1 867.9 462.9 868.3 472.9 869.6 477.3 869.9 507.0 870.5 512.1 871.1 520.8 873.7 521.8 873.8 521.8 875.1 465.0 875.4 462.8 877.6 463.4 878.1 467.1 878.3 490.7 879.9 494.5 880.5 505.7 881.3 510.8 881.7 524.7 884.5 525.8 884.6 527.8 885.1 462.3 885.4 459.7 888.2 460.4 888.6 464.7 888.9 487.6 889.7 494.4 890.2 518.1 890.9 523.9 891.2 530.6 895.2 532.5 895.3 533.6 895.4 496.7 895.9 493.4 896.1 467.5 896.4 464.8 898.3 465.3 898.7 469.6 899.2 489.4 900.5 492.7 900.9 525.0 901.8 531.1 902.2 537.1 905.9 539.2 906.0 533.6 906.2 505.1 906.6 502.1 906.8 472.7 907.1 470.2 911.1 471.3 911.5 475.4 911.9 501.7 912.6 504.2 913.1 525.7 913.6 531.3 913.8 538.1 916.6 539.7 916.7 543.9 916.9 509.6 917.4 506.2 917.6 474.7 917.9 471.9 921.4 472.9 921.8 477.4 922.2 495.7 922.9 503.6 923.5 522.9 924.2 529.2 924.7 548.7 927.3 550.2 927.5 549.8 929.2 476.7 929.5 473.7 931.9 474.4 932.4 479.2 932.8 505.3 933.7 512.7 934.1 527.2 934.9 533.9 935.3 554.4 938.0 556.0 938.1 556.0 938.4 512.1 938.8 508.3 939.0 480.2 939.3 477.1 941.8 477.8 942.2 482.7 942.6 498.8 944.2 499.6 944.6 530.2 945.5 537.1 946.1 560.3 948.7 561.7 948.8 562.5 949.2 485.3 949.6 482.2 952.5 483.1 952.9 488.1 953.3 516.2 954.0 521.0 954.6 549.9 955.5 556.8 956.0 565.9 959.4 567.3 959.5 565.1 960.0 530.4 960.4 526.6 960.6 488.7 961.0 485.6 963.7 486.4 964.2 491.3 964.4 510.4 965.9 515.1 966.5 550.6 967.1 557.3 967.5 568.5 970.0 569.6 970.2 570.6 970.4 536.0 970.8 532.1 971.0 492.1 971.3 488.9 974.6 489.9 975.0 495.0 975.4 524.1 976.7 525.3 977.2 554.9 977.6 561.8 978.0 574.5 980.7 576.1 980.8 577.5 981.0 538.6 981.5 534.5 981.7 495.5 982.0 492.2 984.6 493.0 985.1 498.3 985.5 531.6 986.6 542.1 987.1 556.5 988.1 564.2 988.6 582.9 991.3 585.3 991.4 587.5 993.2 497.1 993.6 493.4 996.5 494.3 997.0 500.4" stroke="#111" stroke-width="1.25" stroke-linejoin="round"/>
<path d="M147.0 492.3 148.0 490.3 149.0 488.3 150.0 486.3 151.0 484.3 152.0 482.3 153.0 480.3 154.0 478.3 155.0 476.3 156.0 474.3 157.0 472.3 158.0 472.3 159.0 470.3 160.0 468.3 161.0 466.3 162.0 464.3 163.0 462.3 164.0 460.3 165.0 458.3 166.0 456.3 167.0 454.3 168.0 452.3 169.0 450.3 170.0 450.3 171.0 448.3 172.0 446.3 173.0 444.3 174.0 442.3 175.0 440.3 176.0 440.3 177.0 438.3 178.0 436.3 179.0 434.3 180.0 432.3 181.0 432.3 182.0 430.3 183.0 428.3 184.0 426.3 185.0 426.3 186.0 424.3 187.0 422.3 188.0 420.3 189.0 420.3 190.0 418.3 191.0 416.3 192.0 416.3 193.0 414.3 194.0 414.3 195.0 412.3 196.0 410.3 197.0 410.3 198.0 408.3 199.0 408.3 200.0 406.3 201.0 406.3 202.0 404.3 203.0 404.3 204.0 402.3 205.0 402.3 206.0 400.3 207.0 400.3 208.0 400.3 209.0 398.3 210.0 398.3 211.0 396.3 212.0 396.3 213.0 396.3 214.0 394.3 215.0 394.3 216.0 394.3 217.0 392.3 218.0 392.3 219.0 392.3 220.0 392.3 221.0 390.3 222.0 390.3 223.0 390.3 224.0 388.3 225.0 388.3 226.0 388.3 227.0 388.3 228.0 386.3 229.0 386.3 230.0 386.3 231.0 386.3 232.0 384.3 233.0 384.3 234.0 384.3 235.0 384.3 236.0 384.3 237.0 382.3 238.0 382.3 239.0 382.3 240.0 382.3 241.0 380.3 242.0 380.3 243.0 380.3 244.0 380.3 245.0 378.3 246.0 378.3 247.0 378.3 248.0 378.3 249.0 376.3 250.0 376.3 251.0 376.3 252.0 376.3 253.0 374.3 254.0 374.3 255.0 374.3 256.0 374.3 257.0 374.3 258.0 372.3 259.0 372.3 260.0 372.3 261.0 372.3 262.0 372.3 263.0 370.3 264.0 370.3 265.0 370.3 266.0 370.3 267.0 370.3 268.0 368.3 269.0 368.3 270.0 368.3 271.0 368.3 272.0 368.3 273.0 368.3 274.0 366.3 275.0 366.3 276.0 366.3 277.0 366.3 278.0 366.3 279.0 366.3 280.0 366.3 281.0 364.3 282.0 364.3 283.0 364.3 284.0 364.3 285.0 364.3 286.0 364.3 287.0 364.3 288.0 364.3 289.0 364.3 290.0 362.3 291.0 362.3 292.0 362.3 293.0 362.3 294.0 362.3 295.0 362.3 296.0 362.3 297.0 362.3 298.0 362.3 299.0 362.3 300.0 360.3 301.0 360.3 302.0 360.3 303.0 360.3 304.0 360.3 305.0 360.3 306.0 360.3 307.0 360.3 308.0 360.3 309.0 360.3 310.0 360.3 311.0 360.3 312.0 360.3 313.0 360.3 314.0 360.3 315.0 358.3 316.0 358.3 317.0 358.3 318.0 358.3 319.0 358.3 320.0 358.3 321.0 358.3 322.0 358.3 323.0 358.3 324.0 358.3 325.0 358.3 326.0 358.3 327.0 358.3 328.0 358.3 329.0 358.3 330.0 358.3 331.0 358.3 332.0 358.3 333.0 358.3 334.0 358.3 335.0 358.3 336.0 358.3 337.0 358.3 338.0 358.3 339.0 358.3 340.0 358.3 341.0 358.3 342.0 358.3 343.0 358.3 344.0 358.3 345.0 358.3 346.0 358.3 347.0 358.3 348.0 358.3 349.0 358.3 350.0 358.3 351.0 358.3 352.0 358.3 353.0 358.3 354.0 358.3 355.0 358.3 356.0 358.3 357.0 358.3 358.0 358.3 359.0 358.3 360.0 358.3 361.0 358.3 362.0 358.3 363.0 358.3 364.0 358.3 365.0 358.3 366.0 358.3 367.0 358.3 368.0 358.3 369.0 358.3 370.0 358.3 371.0 360.3 372.0 360.3 373.0 360.3 374.0 360.3 375.0 360.3 376.0 360.3 377.0 360.3 378.0 360.3 379.0 360.3 380.0 360.3 381.0 360.3 382.0 360.3 383.0 360.3 384.0 360.3 385.0 360.3 386.0 360.3 387.0 360.3 388.0 360.3 389.0 360.3 390.0 360.3 391.0 360.3 392.0 360.3 393.0 362.3 394.0 362.3 395.0 362.3 396.0 362.3 397.0 362.3 398.0 362.3 399.0 362.3 400.0 362.3 401.0 362.3 402.0 362.3 403.0 362.3 404.0 362.3 405.0 362.3 406.0 362.3 407.0 362.3 408.0 364.3 409.0 364.3 410.0 364.3 411.0 364.3 412.0 364.3 413.0 364.3 414.0 364.3 415.0 364.3 416.0 364.3 417.0 364.3 418.0 364.3 419.0 364.3 420.0 364.3 421.0 364.3 422.0 366.3 423.0 366.3 424.0 366.3 425.0 366.3 426.0 366.3 427.0 366.3 428.0 366.3 429.0 366.3 430.0 366.3 431.0 366.3 432.0 366.3 433.0 366.3 434.0 368.3 435.0 368.3 436.0 368.3 437.0 368.3 438.0 368.3 439.0 368.3 440.0 368.3 441.0 368.3 442.0 368.3 443.0 368.3 444.0 370.3 445.0 370.3 446.0 370.3 447.0 370.3 448.0 370.3 449.0 370.3 450.0 370.3 451.0 370.3 452.0 370.3 453.0 370.3 454.0 372.3 455.0 372.3 456.0 372.3 457.0 372.3 458.0 372.3 459.0 372.3 460.0 372.3 461.0 372.3 462.0 372.3 463.0 372.3 464.0 374.3 465.0 374.3 466.0 374.3 467.0 374.3 468.0 374.3 469.0 374.3 470.0 374.3 471.0 374.3 472.0 376.3 473.0 376.3 474.0 376.3 475.0 376.3 476.0 376.3 477.0 376.3 478.0 376.3 479.0 376.3 480.0 376.3 481.0 378.3 482.0 378.3 483.0 378.3 484.0 378.3 485.0 378.3 486.0 378.3 487.0 378.3 488.0 378.3 489.0 380.3 490.0 380.3 491.0 380.3 492.0 380.3 493.0 380.3 494.0 380.3 495.0 380.3 496.0 380.3 497.0 382.3 498.0 382.3 499.0 382.3 500.0 382.3 501.0 382.3 502.0 382.3 503.0 382.3 504.0 382.3 505.0 384.3 506.0 384.3 507.0 384.3 508.0 384.3 509.0 384.3 510.0 384.3 511.0 384.3 512.0 386.3 513.0 386.3 514.0 386.3 515.0 386.3 516.0 386.3 517.0 386.3 518.0 386.3 519.0 386.3 520.0 388.3 521.0 388.3 522.0 388.3 523.0 388.3 524.0 388.3 525.0 388.3 526.0 388.3 527.0 390.3 528.0 390.3 529.0 390.3 530.0 390.3 531.0 390.3 532.0 390.3 533.0 390.3 534.0 392.3 535.0 392.3 536.0 392.3 537.0 392.3 538.0 392.3 539.0 392.3 540.0 392.3 541.0 394.3 542.0 394.3 543.0 394.3 544.0 394.3 545.0 394.3 546.0 394.3 547.0 394.3 548.0 396.3 549.0 396.3 550.0 396.3 551.0 396.3 552.0 396.3 553.0 396.3 554.0 396.3 555.0 398.3 556.0 398.3 557.0 398.3 558.0 398.3 559.0 398.3 560.0 398.3 561.0 398.3 562.0 400.3 563.0 400.3 564.0 400.3 565.0 400.3 566.0 400.3 567.0 400.3 568.0 402.3 569.0 402.3 570.0 402.3 571.0 402.3 572.0 402.3 573.0 402.3 574.0 402.3 575.0 404.3 576.0 404.3 577.0 404.3 578.0 404.3 579.0 404.3 580.0 404.3 581.0 404.3 582.0 406.3 583.0 406.3 584.0 406.3 585.0 406.3 586.0 406.3 587.0 406.3 588.0 406.3 589.0 408.3 590.0 408.3 591.0 408.3 592.0 408.3 593.0 408.3 594.0 408.3 595.0 410.3 596.0 410.3 597.0 410.3 598.0 410.3 599.0 410.3 600.0 410.3 601.0 410.3 602.0 412.3 603.0 412.3 604.0 412.3 605.0 412.3 606.0 412.3 607.0 412.3 608.0 412.3 609.0 414.3 610.0 414.3 611.0 414.3 612.0 414.3 613.0 414.3 614.0 414.3 615.0 416.3 616.0 416.3 617.0 416.3 618.0 416.3 619.0 416.3 620.0 416.3 621.0 418.3 622.0 418.3 623.0 418.3 624.0 418.3 625.0 418.3 626.0 418.3 627.0 418.3 628.0 420.3 629.0 420.3 630.0 420.3 631.0 420.3 632.0 420.3 633.0 420.3 634.0 422.3 635.0 422.3 636.0 422.3 637.0 422.3 638.0 422.3 639.0 422.3 640.0 424.3 641.0 424.3 642.0 424.3 643.0 424.3 644.0 424.3 645.0 424.3 646.0 426.3 647.0 426.3 648.0 426.3 649.0 426.3 650.0 426.3 651.0 428.3 652.0 428.3 653.0 428.3 654.0 428.3 655.0 428.3 656.0 428.3 657.0 430.3 658.0 430.3 659.0 430.3 660.0 430.3 661.0 430.3 662.0 432.3 663.0 432.3 664.0 432.3 665.0 432.3 666.0 432.3 667.0 432.3 668.0 434.3 669.0 434.3 670.0 434.3 671.0 434.3 672.0 434.3 673.0 436.3 674.0 436.3 675.0 436.3 676.0 436.3 677.0 436.3 678.0 438.3 679.0 438.3 680.0 438.3 681.0 438.3 682.0 438.3 683.0 440.3 684.0 440.3 685.0 440.3 686.0 440.3 687.0 440.3 688.0 440.3 689.0 442.3 690.0 442.3 691.0 442.3 691.0 444.4 692.0 443.7 693.0 443.7 693.0 439.9 694.0 443.2 695.0 443.2 695.0 445.1 696.0 445.3 697.0 444.6 698.0 444.6 698.0 448.0 699.0 448.0 699.0 446.3 700.0 447.6 701.0 447.6 701.0 446.0 702.0 446.2 703.0 445.0 704.0 445.7 705.0 445.7 705.0 442.8 706.0 442.8 706.0 445.8 707.0 447.2 708.0 447.8 709.0 447.1 710.0 447.1 710.0 452.4 711.0 452.4 711.0 447.0 712.0 448.0 713.0 450.8 714.0 450.8 714.0 448.8 715.0 448.8 715.0 450.7 716.0 450.7 717.0 450.7 717.0 449.0 718.0 449.0 718.0 451.6 719.0 453.2 720.0 454.1 721.0 454.1 721.0 452.3 722.0 452.3 722.0 450.1 723.0 451.6 724.0 451.6 724.0 453.5 725.0 455.5 725.0 452.8 726.0 453.8 727.0 454.8 728.0 454.9 729.0 453.4 730.0 454.9 731.0 458.2 732.0 458.3 733.0 458.3 733.0 451.8 734.0 451.8 734.0 456.7 735.0 456.7 735.0 455.1 736.0 457.1 737.0 457.1 737.0 459.0 738.0 459.0 738.0 454.5 739.0 454.5 739.0 458.4 740.0 457.6 741.0 459.8 742.0 459.7 743.0 459.9 744.0 459.9 744.0 463.1 745.0 465.1 745.0 462.1 746.0 462.1 746.0 468.1 747.0 468.1 747.0 462.7 748.0 462.7 748.0 466.1 749.0 468.1 749.0 465.4 750.0 465.4 750.0 463.5 751.0 463.5 751.0 466.5 752.0 466.5 752.0 460.1 753.0 460.1 753.0 463.8 754.0 464.6 755.0 465.9 756.0 465.9 756.0 461.4 757.0 461.4 757.0 471.1 758.0 473.1 758.0 467.8 759.0 467.8 759.0 470.0 760.0 469.1 761.0 469.2 762.0 471.2 762.0 468.2 763.0 468.2 763.0 463.9 764.0 463.9 764.0 469.4 765.0 469.4 766.0 471.4 766.0 473.1 767.0 473.0 768.0 473.6 769.0 472.1 770.0 474.1 770.0 470.7 771.0 470.7 771.0 473.1 772.0 473.5 773.0 473.5 773.0 475.3 774.0 475.3 774.0 469.7 775.0 471.7 775.0 477.4 776.0 476.8 777.0 476.8 777.0 479.9 778.0 479.9 778.0 475.6 779.0 477.6 779.0 476.0 780.0 476.0 780.0 472.8 781.0 472.8 781.0 477.4 782.0 476.4 783.0 476.4 783.0 478.3 784.0 477.4 785.0 479.4 785.0 484.6 786.0 484.6 786.0 480.2 787.0 481.2 788.0 482.5 789.0 482.5 789.0 480.5 790.0 479.8 791.0 481.7 792.0 481.0 793.0 481.0 793.0 487.6 794.0 487.6 794.0 482.6 795.0 484.1 796.0 484.1 796.0 481.7 797.0 482.4 798.0 482.3 799.0 482.8 800.0 484.2 801.0 485.7 802.0 484.7 803.0 484.1 804.0 484.1 804.0 481.1 805.0 481.1 805.0 483.8 806.0 483.8 806.0 485.4 807.0 485.4 807.0 491.4 808.0 493.4 808.0 487.0 809.0 488.4 810.0 488.4 810.0 485.8 811.0 485.8 811.0 489.2 812.0 491.2 812.0 486.4 813.0 486.1 814.0 486.1 814.0 488.1 815.0 488.9 816.0 490.6 817.0 490.1 818.0 490.1 818.0 492.9 819.0 494.9 819.0 492.6 820.0 492.6 820.0 498.2 821.0 498.2 821.0 489.0 822.0 489.0 822.0 491.2 823.0 494.5 824.0 494.6 825.0 494.9 826.0 495.7 827.0 497.7 827.0 493.2 828.0 493.2 828.0 495.6 829.0 495.5 830.0 494.3 831.0 494.3 831.0 496.0 832.0 496.0 832.0 502.0 833.0 502.0 833.0 497.0 834.0 496.5 835.0 495.2 836.0 494.8 837.0 496.1 838.0 496.1 839.0 496.3 840.0 497.0 841.0 497.0 841.0 501.0 842.0 503.0 842.0 498.7 843.0 498.7 843.0 496.4 844.0 496.4 844.0 499.2 845.0 498.2 846.0 500.2 846.0 509.4 847.0 509.4 847.0 507.1 848.0 509.1 848.0 501.4 849.0 503.4 849.0 505.1 850.0 507.1 850.0 497.1 851.0 497.1 851.0 506.9 852.0 508.9 853.0 510.9 853.0 512.5 854.0 514.5 854.0 512.4 855.0 512.4 855.0 501.8 856.0 503.8 856.0 511.8 857.0 511.8 857.0 515.3 858.0 515.3 858.0 518.1 859.0 518.1 859.0 513.8 860.0 516.4 861.0 516.0 862.0 516.0 862.0 514.4 863.0 514.6 864.0 516.6 864.0 524.4 865.0 524.4 865.0 517.7 866.0 518.3 867.0 518.0 868.0 520.0 868.0 524.6 869.0 524.8 870.0 525.6 871.0 525.6 871.0 520.7 872.0 520.7 872.0 506.5 873.0 506.5 873.0 520.5 874.0 522.5 874.0 509.8 875.0 509.8 875.0 517.5 876.0 517.5 876.0 523.3 877.0 523.1 878.0 522.9 879.0 525.8 880.0 525.8 880.0 528.1 881.0 528.1 881.0 523.0 882.0 524.0 883.0 524.0 883.0 521.6 884.0 523.6 884.0 526.5 885.0 526.5 885.0 523.4 886.0 523.5 887.0 523.5 887.0 525.8 888.0 525.8 888.0 528.0 889.0 529.2 890.0 528.1 891.0 528.2 892.0 528.2 893.0 528.3 894.0 531.1 895.0 530.7 896.0 530.7 896.0 524.2 897.0 524.2 897.0 526.8 898.0 528.8 898.0 525.7 899.0 527.0 900.0 525.9 901.0 525.9 901.0 540.7 902.0 542.7 902.0 534.6 903.0 535.7 904.0 535.7 904.0 531.0 905.0 533.3 906.0 533.3 906.0 530.0 907.0 530.0 907.0 532.5 908.0 532.5 908.0 539.2 909.0 541.2 909.0 543.7 910.0 543.7 910.0 541.6 911.0 541.6 911.0 534.6 912.0 536.6 912.0 539.5 913.0 538.3 914.0 538.3 914.0 544.6 915.0 544.6 915.0 540.3 916.0 542.3 916.0 530.5 917.0 530.5 917.0 541.5 918.0 541.5 918.0 536.5 919.0 538.5 919.0 548.5 920.0 548.5 920.0 544.7 921.0 544.7 921.0 537.5 922.0 537.5 922.0 544.7 923.0 546.3 924.0 546.3 924.0 547.9 925.0 547.9 925.0 545.6 926.0 547.3 927.0 547.3 927.0 548.9 928.0 548.6 929.0 549.6 930.0 550.8 931.0 550.5 932.0 550.7 933.0 551.8 934.0 551.8 934.0 549.2 935.0 549.2 935.0 555.6 936.0 557.6 936.0 553.8 937.0 554.1 938.0 555.0 939.0 557.2 940.0 556.9 941.0 557.4 942.0 557.4 942.0 553.7 943.0 554.9 944.0 554.9 944.0 560.1 945.0 560.4 946.0 560.4 946.0 558.7 947.0 560.7 947.0 570.7 948.0 570.7 948.0 562.7 949.0 562.7 949.0 560.0 950.0 560.0 950.0 568.2 951.0 570.2 951.0 566.4 952.0 566.4 952.0 561.2 953.0 561.2 953.0 551.5 954.0 551.5 954.0 564.0 955.0 566.0 955.0 573.3 956.0 573.3 956.0 563.8 957.0 563.7 958.0 563.7 958.0 572.1 959.0 572.1 959.0 563.4 960.0 565.4 960.0 560.4 961.0 560.4 961.0 564.8 962.0 564.8 962.0 561.8 963.0 561.8 963.0 578.0 964.0 580.0 964.0 567.7 965.0 567.7 965.0 569.4 966.0 569.4 966.0 577.3 967.0 577.3 967.0 569.6 968.0 569.1 969.0 570.4 970.0 569.6 971.0 569.6 971.0 583.0 972.0 583.0 972.0 570.7 973.0 573.5 974.0 573.5 975.0 573.5 975.0 567.6 976.0 567.6 976.0 572.8 977.0 574.8 977.0 568.7 978.0 568.7 978.0 573.8 979.0 574.0 980.0 574.0 981.0 576.0 981.0 577.5 982.0 577.5 982.0 568.1 983.0 568.1 983.0 574.7 984.0 576.7 984.0 579.6 985.0 579.6 985.0 577.8 986.0 577.3 987.0 579.3 987.0 581.3 988.0 581.3 988.0 573.1 989.0 575.1 989.0 581.3 990.0 581.3 990.0 573.2 991.0 573.2 991.0 585.8 992.0 587.8 992.0 583.9 993.0 583.0 994.0 585.0 994.0 587.3 995.0 588.7 996.0 592.0 996.0 589.0 997.0 588.8" stroke="#ff0000" stroke-width="2.6" stroke-linejoin="round"/>
<path d="M147.0 492.3 149.0 488.3 151.0 484.3 153.0 480.3 155.0 476.3 157.0 472.3 159.0 468.3 161.0 464.3 163.0 462.3 165.0 458.3 167.0 454.3 169.0 450.3 171.0 446.3 173.0 444.3 175.0 440.3 177.0 438.3 179.0 434.3 181.0 430.3 183.0 428.3 185.0 424.3 187.0 422.3 189.0 420.3 191.0 416.3 193.0 414.3 195.0 412.3 197.0 410.3 199.0 408.3 201.0 406.3 203.0 404.3 205.0 402.3 207.0 400.3 209.0 398.3 211.0 396.3 213.0 396.3 215.0 394.3 217.0 392.3 219.0 392.3 221.0 390.3 223.0 388.3 225.0 388.3 227.0 386.3 229.0 386.3 231.0 384.3 233.0 384.3 235.0 382.3 237.0 382.3 239.0 380.3 241.0 380.3 243.0 378.3 247.0 378.3 249.0 376.3 251.0 376.3 253.0 374.3 257.0 374.3 259.0 372.3 261.0 372.3 263.0 370.3 267.0 370.3 269.0 368.3 275.0 368.3 277.0 366.3 285.0 366.3 287.0 364.3 299.0 364.3 301.0 362.3 385.0 362.3 387.0 364.3 407.0 364.3 409.0 366.3 425.0 366.3 427.0 368.3 441.0 368.3 443.0 370.3 455.0 370.3 457.0 372.3 471.0 372.3 473.0 374.3 485.0 374.3 487.0 376.3 499.0 376.3 501.0 378.3 513.0 378.3 515.0 380.3 525.0 380.3 527.0 382.3 539.0 382.3 541.0 384.3 553.0 384.3 555.0 386.3 567.0 386.3 569.0 388.3 579.0 388.3 581.0 390.3 591.0 390.3 593.0 392.3 605.0 392.3 607.0 394.3 617.0 394.3 619.0 396.3 627.0 396.3 629.0 398.3 639.0 398.3 641.0 400.3 651.0 400.3 653.0 402.3 661.0 402.3 663.0 404.3 671.0 404.3 673.0 406.3 681.0 406.3 683.0 408.3 691.0 408.3 693.0 410.3 701.0 410.3 703.0 412.3 711.0 412.3 713.0 414.3 721.0 414.3 723.0 416.3 729.0 416.3 731.0 418.3 739.0 418.3 741.0 420.3 747.0 420.3 749.0 422.3 757.0 422.3 759.0 424.3 765.0 424.3 767.0 426.3 773.0 426.3 775.0 428.3 783.0 428.3 785.0 430.3 791.0 430.3 793.0 432.3 799.0 432.3 801.0 434.3 807.0 434.3 809.0 436.3 815.0 436.3 817.0 438.3 821.0 438.3 823.0 440.3 829.0 440.3 831.0 442.3 837.0 442.3 839.0 444.3 845.0 444.3 847.0 446.3 851.0 446.3 853.0 448.3 859.0 448.3 861.0 450.3 867.0 450.3 869.0 452.3 873.0 452.3 875.0 454.3 881.0 454.3 883.0 456.3 889.0 456.3 891.0 458.3 895.0 458.3 897.0 460.3 903.0 460.3 905.0 462.3 911.0 462.3 913.0 464.3 919.0 464.3 921.0 466.3 925.0 466.3 927.0 468.3 933.0 468.3 935.0 470.3 941.0 470.3 943.0 472.3 947.0 472.3 949.0 474.3 955.0 474.3 957.0 476.3 961.0 476.3 963.0 478.3 969.0 478.3 971.0 480.3 975.0 480.3 977.0 482.3 983.0 482.3 985.0 484.3 989.0 484.3 991.0 486.3 995.0 486.3 997.0 488.3" stroke="#0000ff" stroke-width="2.4" stroke-linecap="round" stroke-dasharray="7.2 8.8"/>
</g>
<rect x="147.00" y="645.00" width="850.00" height="260.90" fill="none" stroke="#000" stroke-width="3.6" stroke-linejoin="round"/>
<path d="M179.50,645.00v8.4M179.50,905.90v-9.9M342.62,645.00v8.4M342.62,905.90v-9.9M505.75,645.00v8.4M505.75,905.90v-9.9M668.88,645.00v8.4M668.88,905.90v-9.9M832.00,645.00v8.4M832.00,905.90v-9.9M147.00,697.18h7.8M997.00,697.18h-10M147.00,749.36h7.8M997.00,749.36h-10M147.00,801.54h7.8M997.00,801.54h-10M147.00,853.72h7.8M997.00,853.72h-10" stroke="#000" stroke-width="3.3" fill="none"/>
<clipPath id="cp2"><rect x="145.0" y="645.0" width="854.0" height="260.9"/></clipPath>
<g clip-path="url(#cp2)" fill="none">
<path d="M149.1 753.1 150.2 751.4 152.6 747.9 153.7 746.2 155.2 743.9 156.7 741.6 157.6 740.2 160.1 736.3 161.3 734.5 164.0 730.5 165.2 728.8 166.2 727.4 167.2 726.0 168.1 724.8 170.6 721.7 171.8 720.4 175.4 716.3 176.6 715.1 178.1 713.5 179.7 712.0 180.6 711.2 183.1 708.9 184.3 708.0 186.8 705.9 188.0 705.0 189.4 703.9 190.8 702.9 191.7 702.2 194.2 700.5 195.3 699.8 198.2 697.9 199.4 697.3 200.5 696.6 201.7 695.9 202.6 695.4 205.1 694.1 206.3 693.5 209.6 691.9 210.8 691.4 212.0 690.8 213.1 690.3 214.1 690.0 216.6 689.0 217.7 688.5 221.0 687.4 222.1 687.0 223.2 686.7 224.3 686.3 225.2 686.0 227.7 685.3 228.8 685.0 232.3 684.1 233.5 683.8 234.9 683.5 236.4 683.2 237.3 683.0 239.8 682.5 240.9 682.3 243.7 681.7 244.8 681.5 246.0 681.3 247.1 681.2 248.0 681.0 250.5 680.6 251.6 680.5 255.0 680.0 256.2 679.8 257.6 679.6 259.1 679.4 260.0 679.3 262.5 679.0 263.6 678.8 266.4 678.5 267.5 678.4 269.0 678.2 270.5 678.0 271.4 677.9 273.9 677.7 275.0 677.6 277.7 677.3 278.8 677.2 280.4 677.0 281.9 676.9 282.8 676.8 285.3 676.6 286.4 676.5 289.0 676.4 290.1 676.3 291.4 676.2 292.7 676.1 293.6 676.0 296.1 675.9 297.2 675.8 300.3 675.7 301.4 675.6 303.1 675.5 304.7 675.5 305.6 675.4 308.1 675.3 309.2 675.3 311.6 675.2 312.7 675.2 314.3 675.1 316.0 675.1 316.9 675.1 319.4 675.0 320.5 675.0 322.9 675.0 324.0 674.9 325.2 674.9 326.4 674.9 327.3 674.9 329.8 674.9 330.9 674.9 334.1 674.9 335.2 674.9 336.7 674.9 338.2 675.0 339.1 675.0 341.6 675.0 342.7 675.0 345.4 675.1 346.5 675.1 347.6 675.2 348.7 675.2 349.6 675.2 352.1 675.3 353.2 675.3 356.6 675.4 357.7 675.5 359.0 675.5 360.2 675.6 361.1 675.6 363.6 675.8 364.7 675.8 367.9 676.0 369.0 676.0 370.2 676.1 371.4 676.2 372.3 676.2 374.8 676.4 375.9 676.5 379.1 676.7 380.2 676.7 381.2 676.8 382.3 676.9 383.2 677.0 385.6 677.1 386.7 677.2 390.3 677.5 391.4 677.9 392.8 677.8 394.1 677.7 395.0 677.9 397.5 678.5 398.6 678.7 401.5 679.0 402.6 679.4 403.7 679.2 404.7 679.1 405.6 679.3 408.1 680.0 409.2 680.2 412.7 680.6 413.8 682.0 415.3 681.1 416.7 680.3 417.6 680.9 420.1 682.6 421.2 683.0 423.9 683.3 425.0 684.8 426.2 683.8 427.4 683.1 428.3 683.7 430.8 685.2 431.9 685.7 435.0 686.0 436.1 687.7 437.7 685.4 439.3 683.7 440.2 684.9 442.7 687.8 443.8 688.6 446.2 689.0 447.3 689.7 448.9 685.0 450.4 681.3 451.3 683.6 453.7 689.2 454.9 690.7 457.3 691.1 458.4 688.8 459.9 687.6 461.4 686.6 462.3 687.4 464.8 689.3 465.9 689.9 468.5 690.2 469.6 691.2 471.0 690.0 472.5 689.0 473.4 689.8 475.8 691.7 477.0 692.3 479.6 692.7 480.7 693.6 481.9 690.2 483.0 687.5 483.9 689.2 486.3 693.5 487.5 694.6 490.7 695.2 491.8 693.5 493.2 691.9 494.7 690.7 495.6 691.6 498.0 694.1 499.1 694.8 501.8 695.4 502.9 695.7 504.2 693.8 505.5 692.2 506.4 693.4 508.9 696.4 510.0 697.3 512.9 698.0 514.0 699.5 515.4 696.9 516.8 694.7 517.7 696.2 520.1 700.1 521.3 701.2 524.0 701.9 525.1 699.9 526.3 698.1 527.5 696.6 528.4 697.7 530.8 700.7 532.0 701.6 535.1 702.4 536.2 703.3 536.8 694.6 537.2 694.2 539.9 694.7 540.4 695.3 540.7 697.1 541.4 697.5 541.8 703.0 542.9 704.0 543.1 705.1 547.1 706.1 547.2 704.1 547.5 701.4 547.9 701.2 548.2 699.2 548.5 699.0 552.1 699.6 552.5 700.0 552.8 702.6 554.0 703.5 554.2 703.8 555.2 704.6 555.5 706.3 558.2 707.0 558.3 709.5 558.8 704.9 559.3 704.6 559.5 701.8 559.8 701.5 561.7 701.9 562.2 702.5 562.6 704.3 564.1 704.8 564.5 709.6 565.2 710.5 565.7 711.5 569.2 712.4 569.3 713.1 569.7 702.9 570.1 702.5 574.5 703.3 575.0 704.1 575.3 706.6 576.2 708.1 576.7 711.4 577.7 712.6 578.2 715.5 580.3 716.1 580.4 715.9 581.1 711.3 581.6 710.8 581.8 704.6 582.1 704.2 583.5 704.4 583.9 705.3 584.5 709.3 586.0 711.0 586.6 714.9 587.0 716.0 587.3 717.9 591.3 719.0 591.4 718.8 591.6 714.1 592.0 713.7 592.2 708.2 592.6 707.8 596.2 708.5 596.6 709.3 596.8 714.2 597.4 714.8 597.9 719.1 598.6 720.3 598.8 720.9 602.3 721.9 602.4 722.0 604.1 709.7 604.4 709.2 606.5 709.6 606.9 710.5 607.5 714.5 608.9 716.2 609.4 722.3 610.4 723.7 610.7 724.4 613.3 725.2 613.4 726.6 613.6 719.8 614.1 719.3 614.3 714.9 614.6 714.5 618.7 715.2 619.1 716.1 619.3 721.7 620.2 722.6 620.8 725.0 621.7 726.2 622.1 729.2 624.3 729.8 624.4 729.5 624.9 713.4 625.2 712.7 627.4 713.1 627.9 714.3 628.1 718.8 629.9 720.3 630.4 725.0 631.5 726.6 631.7 731.7 635.3 732.7 635.4 729.1 635.9 717.8 636.3 717.3 640.2 718.1 640.7 718.9 641.2 721.4 642.8 722.2 643.3 728.4 644.1 729.7 644.4 731.8 646.2 732.4 646.3 734.5 647.7 716.9 648.0 716.3 649.8 716.6 650.3 717.8 650.6 725.1 652.1 727.0 652.6 731.4 653.3 733.2 653.6 736.7 657.2 737.8 657.3 738.9 657.7 719.3 658.1 718.6 661.9 719.3 662.3 720.6 662.7 726.5 664.4 728.7 664.9 734.3 665.4 736.2 665.7 741.5 668.1 742.2 668.2 741.4 670.0 720.8 670.3 720.0 672.3 720.3 672.7 721.8 673.2 727.6 674.1 729.5 674.4 736.3 675.2 738.4 675.7 743.7 679.1 744.7 679.2 744.3 680.8 724.9 681.1 724.1 683.4 724.6 683.9 725.9 684.3 735.1 685.0 737.2 685.6 743.4 686.3 745.4 686.8 746.6 690.0 747.5 690.1 749.9 690.7 723.5 691.1 722.4 693.7 723.0 694.2 724.7 694.7 730.3 695.8 731.0 696.4 742.7 696.9 745.1 697.3 752.1 700.9 753.1 701.0 753.8 701.5 729.2 701.8 728.3 704.6 728.8 705.0 730.5 705.3 739.4 705.9 742.4 706.3 751.2 706.7 753.4 707.0 755.6 711.8 757.0 711.9 754.6 712.4 733.1 712.7 732.3 716.3 733.1 716.7 734.5 717.1 739.6 718.2 740.8 718.6 750.5 719.5 752.6 719.9 757.0 722.7 757.9 722.8 758.1 723.0 746.4 723.4 745.3 723.7 733.5 724.0 732.5 725.7 732.9 726.1 734.6 726.6 746.0 727.1 748.1 727.4 754.5 727.9 756.8 728.4 759.9 733.6 761.6 733.7 764.4 733.9 753.6 734.3 752.2 734.5 735.2 734.8 734.1 737.8 734.7 738.3 736.7 738.6 747.0 739.1 750.5 739.6 762.2 740.5 765.0 740.9 766.8 744.5 768.0 744.6 765.0 744.8 751.0 745.3 749.8 745.5 739.7 745.8 738.7 748.1 739.2 748.5 740.9 748.8 747.8 750.1 750.5 750.5 763.7 750.9 766.0 751.2 767.4 755.3 768.9 755.5 768.8 755.9 741.2 756.3 740.1 760.3 741.0 760.7 742.9 761.1 752.1 761.9 753.8 762.3 767.2 762.7 769.8 763.0 771.7 766.2 773.0 766.3 776.4 766.4 763.8 766.9 762.3 767.1 744.1 767.4 742.8 770.9 743.6 771.3 745.8 771.7 753.6 773.2 757.8 773.7 769.9 774.4 773.0 774.8 779.8 777.0 780.7 777.1 778.7 777.4 767.1 777.8 765.6 778.0 745.7 778.4 744.4 781.4 745.1 781.9 747.3 782.3 754.3 783.9 756.8 784.3 774.6 785.3 777.8 785.6 782.2 787.9 783.1 788.0 782.7 788.2 766.1 788.6 764.5 788.9 749.0 789.2 747.6 792.6 748.4 793.0 750.7 793.3 758.4 794.3 759.0 794.6 774.7 795.1 777.8 795.3 785.7 798.7 787.0 798.8 788.1 799.2 749.9 799.5 748.4 802.5 749.1 802.9 751.6 803.1 762.7 804.5 765.3 805.0 783.3 805.9 786.8 806.3 791.0 809.5 792.2 809.6 793.8 809.7 768.7 810.2 766.7 810.4 752.2 810.7 750.5 814.0 751.3 814.4 754.1 815.0 765.2 816.0 769.2 816.2 781.5 817.1 785.3 817.6 796.6 820.3 797.6 820.4 796.1 821.3 779.6 821.7 777.6 821.9 757.1 822.2 755.6 823.3 755.9 823.7 758.4 824.2 769.3 824.9 772.5 825.4 788.2 826.3 791.8 826.7 798.2 831.1 799.6 831.2 800.7 831.4 774.7 831.8 772.6 832.0 758.7 832.4 757.0 835.6 757.8 836.0 760.6 836.2 775.6 837.8 779.7 838.4 790.0 839.2 793.8 839.5 803.4 841.9 804.1 842.0 804.3 842.5 760.7 842.9 758.9 845.3 759.5 845.7 762.4 846.2 770.1 846.8 774.9 847.0 791.1 847.4 794.9 847.8 806.2 852.7 807.7 852.8 803.3 853.4 791.3 853.8 789.3 854.0 764.5 854.3 762.9 855.8 763.3 856.2 765.9 856.5 782.0 857.2 783.4 857.6 792.9 858.0 796.3 858.4 805.1 863.4 806.8 863.5 808.4 864.5 769.2 864.9 767.6 867.0 768.2 867.4 770.8 867.9 789.0 868.6 791.2 868.8 801.7 869.7 805.3 870.2 810.7 874.2 812.0 874.3 812.9 874.4 793.8 874.9 791.7 875.1 769.5 875.4 767.7 877.6 768.3 878.0 771.2 878.4 778.9 880.1 780.5 880.4 799.5 881.3 803.5 881.7 815.5 884.9 816.7 885.0 816.2 885.3 795.5 885.7 793.4 885.9 773.5 886.2 771.8 888.6 772.5 889.1 775.3 889.5 784.2 890.0 787.4 890.3 809.3 890.7 813.0 891.0 818.4 895.7 820.1 895.8 819.5 896.1 773.6 896.4 771.8 899.3 772.6 899.8 775.6 900.2 783.7 901.3 785.3 901.9 814.1 902.9 818.4 903.3 822.4 906.4 823.5 906.5 823.0 906.7 801.2 907.1 799.2 907.3 781.2 907.7 779.5 910.0 780.2 910.4 782.9 910.7 790.8 911.6 792.3 911.9 813.0 912.5 816.8 912.8 825.4 917.1 827.0 917.2 828.0 917.5 782.8 917.9 781.0 920.2 781.7 920.7 784.6 921.0 802.9 922.5 803.9 922.9 812.2 923.5 816.2 923.8 830.4 927.8 831.9 927.9 830.0 929.4 785.3 929.7 783.5 931.8 784.1 932.3 787.0 932.7 799.2 934.3 801.1 934.8 823.5 935.2 827.5 935.7 832.8 938.5 833.7 938.6 836.5 939.3 820.2 939.7 817.8 939.9 787.6 940.3 785.6 943.2 786.5 943.6 789.7 944.1 801.5 945.1 804.2 945.5 828.2 946.2 832.5 946.5 839.2 949.2 840.1 949.3 839.7 950.5 794.9 950.8 793.1 952.8 793.7 953.3 796.6 953.5 807.1 954.4 811.4 955.0 827.2 955.8 831.3 956.3 841.9 959.8 842.9 959.9 845.3 960.4 796.3 960.7 794.3 963.2 795.1 963.6 798.2 964.1 811.4 965.8 815.6 966.2 830.6 966.6 834.8 967.0 847.2 970.5 848.1 970.6 847.0 970.8 829.1 971.3 826.6 971.5 797.8 971.8 795.9 973.5 796.4 974.0 799.6 974.4 809.7 976.0 810.9 976.5 837.0 976.9 841.2 977.2 848.5 981.1 849.3 981.2 849.8 981.6 801.2 981.9 799.3 984.4 800.0 984.9 803.2 985.2 819.3 986.4 821.6 987.0 842.1 987.9 846.3 988.1 851.1 991.8 851.6 991.9 852.2 992.7 824.1 993.1 821.8 993.3 806.1 993.6 804.2 995.1 804.7 995.6 807.7 996.1 821.4" stroke="#111" stroke-width="1.25" stroke-linejoin="round"/>
<path d="M147.0 753.7 149.0 751.7 151.0 749.7 153.0 745.7 155.0 741.7 157.0 739.7 159.0 735.7 161.0 733.7 163.0 729.7 165.0 727.7 167.0 725.7 169.0 721.7 171.0 719.7 173.0 717.7 175.0 715.7 177.0 713.7 179.0 711.7 181.0 709.7 183.0 707.7 185.0 705.7 187.0 703.7 189.0 701.7 191.0 701.7 193.0 699.7 195.0 697.7 197.0 697.7 199.0 695.7 201.0 693.7 203.0 693.7 205.0 691.7 207.0 691.7 209.0 689.7 213.0 689.7 215.0 687.7 217.0 687.7 219.0 685.7 223.0 685.7 225.0 683.7 231.0 683.7 233.0 681.7 239.0 681.7 241.0 679.7 251.0 679.7 253.0 677.7 265.0 677.7 267.0 675.7 287.0 675.7 289.0 673.7 379.0 673.7 381.0 675.7 403.0 675.7 405.0 677.7 423.0 677.7 425.0 679.7 439.0 679.7 441.0 681.7 455.0 681.7 457.0 683.7 469.0 683.7 471.0 685.7 483.0 685.7 485.0 687.7 495.0 687.7 497.0 689.7 509.0 689.7 511.0 691.7 521.0 691.7 523.0 693.7 533.0 693.7 535.0 695.7 545.0 695.7 547.0 697.7 559.0 697.7 561.0 699.7 571.0 699.7 573.0 701.7 583.0 701.7 585.0 703.7 595.0 703.7 597.0 705.7 607.0 705.7 609.0 707.7 619.0 707.7 621.0 709.7 629.0 709.7 631.0 711.7 641.0 711.7 643.0 713.7 653.0 713.7 655.0 715.7 663.0 715.7 665.0 717.7 673.0 717.7 675.0 719.7 685.0 719.7 687.0 721.7 695.0 721.7 697.0 723.7 705.0 723.7 707.0 725.7 715.0 725.7 717.0 727.7 725.0 727.7 727.0 729.7 735.0 729.7 737.0 731.7 745.0 731.7 747.0 733.7 753.0 733.7 755.0 735.7 763.0 735.7 765.0 737.7 773.0 737.7 775.0 739.7 781.0 739.7 783.0 741.7 789.0 741.7 791.0 743.7 799.0 743.7 801.0 745.7 807.0 745.7 809.0 747.7 815.0 747.7 817.0 749.7 823.0 749.7 825.0 751.7 831.0 751.7 833.0 753.7 839.0 753.7 841.0 755.7 847.0 755.7 849.0 757.7 855.0 757.7 857.0 759.7 863.0 759.7 865.0 761.7 871.0 761.7 873.0 763.7 877.0 763.7 879.0 765.7 885.0 765.7 887.0 767.7 893.0 767.7 895.0 769.7 901.0 769.7 903.0 771.7 907.0 771.7 909.0 773.7 915.0 773.7 917.0 775.7 921.0 775.7 923.0 777.7 929.0 777.7 931.0 779.7 937.0 779.7 939.0 781.7 943.0 781.7 945.0 783.7 951.0 783.7 953.0 785.7 957.0 785.7 959.0 787.7 963.0 787.7 965.0 789.7 971.0 789.7 973.0 791.7 977.0 791.7 979.0 793.7 985.0 793.7 987.0 795.7 991.0 795.7 993.0 797.7 997.0 797.7" stroke="#0000ff" stroke-width="2.4" stroke-linecap="round" stroke-dasharray="7.2 8.8"/>
<path d="M147.0 755.7 148.0 753.7 149.0 751.7 150.0 749.7 151.0 749.7 152.0 747.7 153.0 745.7 154.0 743.7 155.0 741.7 156.0 741.7 157.0 739.7 158.0 737.7 159.0 735.7 160.0 735.7 161.0 733.7 162.0 731.7 163.0 729.7 164.0 729.7 165.0 727.7 166.0 725.7 167.0 725.7 168.0 723.7 169.0 721.7 170.0 721.7 171.0 719.7 172.0 717.7 173.0 717.7 174.0 715.7 175.0 715.7 176.0 713.7 177.0 713.7 178.0 711.7 179.0 711.7 180.0 709.7 181.0 709.7 182.0 707.7 183.0 707.7 184.0 705.7 185.0 705.7 186.0 703.7 187.0 703.7 188.0 703.7 189.0 701.7 190.0 701.7 191.0 701.7 192.0 699.7 193.0 699.7 194.0 699.7 195.0 697.7 196.0 697.7 197.0 697.7 198.0 695.7 199.0 695.7 200.0 695.7 201.0 693.7 202.0 693.7 203.0 693.7 204.0 693.7 205.0 691.7 206.0 691.7 207.0 691.7 208.0 689.7 209.0 689.7 210.0 689.7 211.0 689.7 212.0 689.7 213.0 687.7 214.0 687.7 215.0 687.7 216.0 687.7 217.0 685.7 218.0 685.7 219.0 685.7 220.0 685.7 221.0 685.7 222.0 685.7 223.0 683.7 224.0 683.7 225.0 683.7 226.0 683.7 227.0 683.7 228.0 683.7 229.0 681.7 230.0 681.7 231.0 681.7 232.0 681.7 233.0 681.7 234.0 681.7 235.0 681.7 236.0 679.7 237.0 679.7 238.0 679.7 239.0 679.7 240.0 679.7 241.0 679.7 242.0 679.7 243.0 679.7 244.0 679.7 245.0 677.7 246.0 677.7 247.0 677.7 248.0 677.7 249.0 677.7 250.0 677.7 251.0 677.7 252.0 677.7 253.0 677.7 254.0 677.7 255.0 677.7 256.0 677.7 257.0 675.7 258.0 675.7 259.0 675.7 260.0 675.7 261.0 675.7 262.0 675.7 263.0 675.7 264.0 675.7 265.0 675.7 266.0 675.7 267.0 675.7 268.0 675.7 269.0 675.7 270.0 675.7 271.0 675.7 272.0 673.7 273.0 673.7 274.0 673.7 275.0 673.7 276.0 673.7 277.0 673.7 278.0 673.7 279.0 673.7 280.0 673.7 281.0 673.7 282.0 673.7 283.0 673.7 284.0 673.7 285.0 673.7 286.0 673.7 287.0 673.7 288.0 673.7 289.0 673.7 290.0 673.7 291.0 671.7 292.0 671.7 293.0 671.7 294.0 671.7 295.0 671.7 296.0 671.7 297.0 671.7 298.0 671.7 299.0 671.7 300.0 671.7 301.0 671.7 302.0 671.7 303.0 671.7 304.0 671.7 305.0 671.7 306.0 671.7 307.0 671.7 308.0 671.7 309.0 671.7 310.0 671.7 311.0 671.7 312.0 671.7 313.0 671.7 314.0 671.7 315.0 671.7 316.0 671.7 317.0 671.7 318.0 671.7 319.0 671.7 320.0 671.7 321.0 671.7 322.0 671.7 323.0 671.7 324.0 671.7 325.0 671.7 326.0 671.7 327.0 671.7 328.0 671.7 329.0 671.7 330.0 671.7 331.0 671.7 332.0 671.7 333.0 671.7 334.0 671.7 335.0 671.7 336.0 671.7 337.0 671.7 338.0 671.7 339.0 671.7 340.0 671.7 341.0 671.7 342.0 671.7 343.0 671.7 344.0 671.7 345.0 671.7 346.0 671.7 347.0 671.7 348.0 671.7 349.0 671.7 350.0 671.7 351.0 671.7 352.0 671.7 353.0 671.7 354.0 671.7 355.0 671.7 356.0 671.7 357.0 671.7 358.0 671.7 359.0 671.7 360.0 671.7 361.0 671.7 362.0 671.7 363.0 671.7 364.0 671.7 365.0 671.7 366.0 671.7 367.0 671.7 368.0 671.7 369.0 671.7 370.0 673.7 371.0 673.7 372.0 673.7 373.0 673.7 374.0 673.7 375.0 673.7 376.0 673.7 377.0 673.7 378.0 673.7 379.0 673.7 380.0 673.7 381.0 673.7 382.0 673.7 383.0 673.7 384.0 673.7 385.0 673.7 386.0 673.7 387.0 673.7 388.0 675.7 389.0 675.7 390.0 675.7 391.0 675.7 392.0 675.7 393.0 675.7 394.0 675.7 395.0 675.7 396.0 675.7 397.0 675.7 398.0 675.7 399.0 675.7 400.0 675.7 401.0 675.7 402.0 675.7 403.0 675.7 404.0 677.7 405.0 677.7 406.0 677.7 407.0 677.7 408.0 677.7 409.0 677.7 410.0 677.7 411.0 677.7 412.0 677.7 413.0 677.7 414.0 677.7 415.0 677.7 416.0 677.7 417.0 677.7 418.0 677.7 419.0 679.7 420.0 679.7 421.0 679.7 422.0 679.7 423.0 679.7 424.0 679.7 425.0 679.7 426.0 679.7 427.0 679.7 428.0 679.7 429.0 679.7 430.0 679.7 431.0 679.7 432.0 681.7 433.0 681.7 434.0 681.7 435.0 681.7 436.0 681.7 437.0 681.7 438.0 681.7 439.0 681.7 440.0 681.7 441.0 681.7 442.0 681.7 443.0 681.7 444.0 683.7 445.0 683.7 446.0 683.7 447.0 683.7 448.0 683.7 449.0 683.7 450.0 683.7 451.0 683.7 452.0 683.7 453.0 683.7 454.0 683.7 455.0 685.7 456.0 685.7 457.0 685.7 458.0 685.7 459.0 685.7 460.0 685.7 461.0 685.7 462.0 685.7 463.0 685.7 464.0 685.7 465.0 685.7 466.0 687.7 467.0 687.7 468.0 687.7 469.0 687.7 470.0 687.7 471.0 687.7 472.0 687.7 473.0 687.7 474.0 687.7 475.0 687.7 476.0 689.7 477.0 689.7 478.0 689.7 479.0 689.7 480.0 689.7 481.0 689.7 482.0 689.7 483.0 689.7 484.0 689.7 485.0 691.7 486.0 691.7 487.0 691.7 488.0 691.7 489.0 691.7 490.0 691.7 491.0 691.7 492.0 691.7 493.0 691.7 494.0 691.7 495.0 693.7 496.0 693.7 497.0 693.7 498.0 693.7 499.0 693.7 500.0 693.7 501.0 693.7 502.0 693.7 503.0 693.7 504.0 695.7 505.0 695.7 506.0 695.7 507.0 695.7 508.0 695.7 509.0 695.7 510.0 695.7 511.0 695.7 512.0 697.7 513.0 697.7 514.0 697.7 515.0 697.7 516.0 697.7 517.0 697.7 518.0 697.7 519.0 697.7 520.0 697.7 521.0 699.7 522.0 699.7 523.0 699.7 524.0 699.7 525.0 699.7 526.0 699.7 527.0 699.7 528.0 699.7 529.0 701.7 530.0 701.7 531.0 701.7 532.0 701.7 533.0 701.7 534.0 701.7 535.0 701.7 536.0 701.7 537.0 703.7 538.0 703.7 539.0 703.7 540.0 703.7 541.0 703.7 542.0 703.7 543.0 703.7 544.0 705.7 545.0 705.7 546.0 705.7 547.0 705.7 548.0 705.7 549.0 705.7 550.0 705.7 551.0 705.7 552.0 707.7 553.0 707.7 554.0 707.7 555.0 707.7 556.0 707.7 557.0 707.7 558.0 707.7 559.0 707.7 560.0 709.7 561.0 709.7 562.0 709.7 563.0 709.7 564.0 709.7 565.0 709.7 566.0 709.7 567.0 711.7 568.0 711.7 569.0 711.7 570.0 711.7 571.0 711.7 572.0 711.7 573.0 711.7 574.0 713.7 575.0 713.7 576.0 713.7 577.0 713.7 578.0 713.7 579.0 713.7 580.0 713.7 581.0 715.7 582.0 715.7 583.0 715.7 584.0 715.7 585.0 715.7 586.0 715.7 587.0 715.7 588.0 717.7 589.0 717.7 590.0 717.7 591.0 717.7 592.0 717.7 593.0 717.7 594.0 717.7 595.0 719.7 596.0 719.7 597.0 719.7 598.0 719.7 599.0 719.7 600.0 719.7 601.0 719.7 602.0 721.7 603.0 721.7 604.0 721.7 605.0 721.7 606.0 721.7 607.0 721.7 608.0 721.7 609.0 723.7 610.0 723.7 611.0 723.7 612.0 723.7 613.0 723.7 614.0 723.7 615.0 723.7 616.0 725.7 617.0 725.7 618.0 725.7 619.0 725.7 620.0 725.7 621.0 725.7 622.0 725.7 623.0 727.7 624.0 727.7 625.0 727.7 626.0 727.7 627.0 727.7 628.0 727.7 629.0 727.7 630.0 729.7 631.0 729.7 632.0 729.7 633.0 729.7 634.0 729.7 635.0 729.7 636.0 731.7 637.0 731.7 638.0 731.7 639.0 731.7 640.0 731.7 641.0 731.7 642.0 731.7 643.0 733.7 644.0 733.7 645.0 733.7 646.0 733.7 647.0 733.7 648.0 733.7 649.0 733.7 650.0 735.7 651.0 735.7 652.0 735.7 653.0 735.7 654.0 735.7 655.0 735.7 656.0 737.7 657.0 737.7 658.0 737.7 659.0 737.7 660.0 737.7 661.0 737.7 662.0 737.7 663.0 739.7 664.0 739.7 665.0 739.7 666.0 739.7 667.0 739.7 668.0 739.7 669.0 741.7 670.0 741.7 671.0 741.7 672.0 741.7 673.0 741.7 674.0 741.7 675.0 741.7 676.0 743.7 677.0 743.7 678.0 743.7 679.0 743.7 680.0 743.7 681.0 743.7 682.0 743.7 683.0 745.7 684.0 745.7 685.0 745.7 686.0 745.7 687.0 745.7 688.0 745.7 689.0 747.7 690.0 747.7 691.0 747.7 692.0 747.7 693.0 747.7 694.0 747.7 695.0 747.7 696.0 749.7 697.0 749.7 698.0 749.7 699.0 749.7 700.0 749.7 701.0 749.7 702.0 751.7 703.0 751.7 704.0 751.7 705.0 751.7 706.0 751.7 707.0 751.7 708.0 751.7 709.0 753.7 710.0 753.7 711.0 753.7 712.0 753.7 713.0 753.7 714.0 753.7 715.0 753.7 716.0 755.7 717.0 755.7 718.0 755.7 719.0 755.7 720.0 755.7 721.0 755.7 722.0 757.7 723.0 757.7 724.0 757.7 725.0 757.7 726.0 757.7 727.0 757.7 728.0 759.7 729.0 759.7 730.0 759.7 731.0 759.7 732.0 759.7 733.0 759.7 734.0 761.7 735.0 761.7 736.0 761.7 737.0 761.7 738.0 761.7 739.0 761.7 740.0 763.7 741.0 763.7 742.0 763.7 743.0 763.7 744.0 763.7 745.0 763.7 746.0 765.7 747.0 765.7 748.0 765.7 749.0 765.7 750.0 765.7 751.0 765.7 752.0 767.7 753.0 767.7 754.0 767.7 755.0 767.7 756.0 767.7 757.0 769.7 758.0 769.7 759.0 769.7 760.0 769.7 761.0 769.7 762.0 771.7 763.0 771.7 764.0 771.7 765.0 771.7 766.0 771.7 767.0 773.7 768.0 773.7 769.0 773.7 770.0 773.7 771.0 773.7 772.0 775.7 773.0 775.7 774.0 775.7 775.0 775.7 776.0 775.7 777.0 777.7 778.0 777.7 779.0 777.7 780.0 777.7 781.0 777.7 782.0 779.7 783.0 779.7 784.0 779.7 785.0 779.7 786.0 779.7 787.0 781.7 788.0 781.7 789.0 781.7 790.0 781.7 791.0 781.7 792.0 783.7 793.0 783.7 794.0 783.7 795.0 783.7 796.0 783.7 797.0 785.7 798.0 785.7 799.0 785.7 800.0 785.7 801.0 785.7 802.0 787.7 803.0 787.7 804.0 787.7 805.0 787.7 806.0 787.7 807.0 789.7 808.0 789.7 809.0 789.7 810.0 789.7 811.0 789.7 812.0 791.7 813.0 791.7 814.0 791.7 815.0 791.7 816.0 791.7 817.0 791.7 818.0 793.7 819.0 793.7 820.0 793.7 821.0 793.7 821.0 791.2 822.0 791.2 822.0 793.8 823.0 794.4 824.0 795.7 825.0 796.2 826.0 795.1 827.0 795.1 827.0 797.0 828.0 797.0 828.0 795.3 829.0 794.3 830.0 797.3 831.0 798.0 832.0 798.9 833.0 798.9 833.0 800.6 834.0 800.6 834.0 798.7 835.0 798.4 836.0 799.9 837.0 799.1 838.0 800.2 839.0 801.5 840.0 801.5 840.0 798.7 841.0 798.5 842.0 799.7 843.0 800.9 844.0 801.1 845.0 801.9 846.0 801.9 847.0 802.9 848.0 801.6 849.0 803.4 850.0 804.2 851.0 804.0 852.0 803.4 853.0 803.2 854.0 802.2 855.0 804.2 855.0 807.5 856.0 807.1 857.0 807.1 857.0 803.4 858.0 804.7 859.0 804.7 859.0 807.2 860.0 807.2 860.0 803.8 861.0 805.8 861.0 807.8 862.0 807.2 863.0 807.2 863.0 808.8 864.0 808.8 864.0 806.4 865.0 806.4 865.0 809.9 866.0 809.9 866.0 806.9 867.0 808.7 868.0 808.7 868.0 811.0 869.0 809.8 870.0 809.8 870.0 812.9 871.0 812.9 871.0 810.0 872.0 808.6 873.0 811.6 874.0 811.6 874.0 816.1 875.0 816.1 875.0 810.5 876.0 811.0 877.0 811.0 877.0 817.6 878.0 817.6 878.0 812.4 879.0 814.4 879.0 816.2 880.0 816.2 880.0 813.8 881.0 814.6 882.0 813.1 883.0 813.1 883.0 814.8 884.0 814.8 884.0 810.5 885.0 812.5 885.0 823.4 886.0 823.4 886.0 818.3 887.0 818.3 887.0 815.7 888.0 815.4 889.0 815.4 889.0 808.7 890.0 810.7 890.0 820.6 891.0 820.6 891.0 817.1 892.0 817.1 892.0 820.8 893.0 820.8 893.0 818.1 894.0 818.9 895.0 820.9 895.0 818.7 896.0 819.8 897.0 820.6 898.0 819.3 899.0 819.7 900.0 820.1 901.0 821.0 902.0 821.0 902.0 824.0 903.0 824.0 903.0 822.0 904.0 821.3 905.0 821.3 905.0 815.0 906.0 817.0 906.0 823.9 907.0 823.9 907.0 822.0 908.0 822.0 908.0 819.3 909.0 819.3 909.0 824.1 910.0 823.7 911.0 825.7 911.0 821.6 912.0 821.6 912.0 829.3 913.0 827.8 914.0 827.8 914.0 826.3 915.0 826.6 916.0 826.6 916.0 823.9 917.0 825.9 917.0 828.2 918.0 827.4 919.0 827.4 919.0 834.9 920.0 834.9 920.0 823.4 921.0 823.4 921.0 833.0 922.0 835.0 922.0 827.6 923.0 827.6 923.0 824.5 924.0 824.5 924.0 830.0 925.0 828.7 926.0 829.1 927.0 830.7 928.0 830.7 928.0 838.9 929.0 838.9 929.0 832.9 930.0 832.9 930.0 827.6 931.0 827.6 931.0 831.5 932.0 831.5 932.0 833.9 933.0 835.9 933.0 837.8 934.0 837.8 934.0 834.5 935.0 834.0 936.0 834.0 936.0 838.4 937.0 838.4 937.0 824.3 938.0 826.3 938.0 836.5 939.0 836.5 939.0 834.9 940.0 836.4 941.0 836.1 942.0 835.8 943.0 835.8 944.0 838.2 945.0 839.4 946.0 839.4 946.0 837.0 947.0 837.0 947.0 839.3 948.0 838.3 949.0 837.5 950.0 837.4 951.0 839.4 951.0 829.0 952.0 829.0 952.0 838.1 953.0 838.1 953.0 840.8 954.0 840.8 954.0 833.1 955.0 833.1 955.0 841.0 956.0 841.0 956.0 838.8 957.0 840.8 957.0 848.7 958.0 848.7 958.0 840.4 959.0 840.4 959.0 831.6 960.0 831.6 960.0 841.6 961.0 841.6 961.0 835.8 962.0 835.8 962.0 842.5 963.0 842.5 963.0 834.7 964.0 836.7 964.0 843.7 965.0 843.7 965.0 839.5 966.0 839.5 966.0 843.5 967.0 844.3 968.0 843.7 969.0 843.7 969.0 839.5 970.0 839.5 970.0 847.9 971.0 847.9 971.0 843.8 972.0 845.8 972.0 850.3 973.0 850.3 973.0 847.8 974.0 847.9 975.0 847.9 975.0 845.8 976.0 845.7 977.0 845.7 978.0 845.7 978.0 843.8 979.0 843.8 979.0 845.7 980.0 844.9 981.0 846.9 981.0 854.4 982.0 854.4 982.0 851.4 983.0 851.4 983.0 847.3 984.0 847.3 984.0 838.5 985.0 838.5 985.0 847.0 986.0 847.0 986.0 853.7 987.0 853.7 987.0 848.3 988.0 848.3 988.0 849.9 989.0 849.5 990.0 849.5 990.0 845.8 991.0 845.8 991.0 847.4 992.0 849.4 992.0 845.9 993.0 845.9 993.0 854.0 994.0 854.0 994.0 849.3 995.0 849.6 996.0 849.6 996.0 844.1 997.0 844.1 997.0 849.8" stroke="#ff0000" stroke-width="2.6" stroke-linejoin="round"/>
</g>
<g fill="none" stroke="#000">
<circle cx="573.45" cy="955.55" r="2.95" stroke-width="1.2"/>
<circle cx="407.8" cy="562.3" r="2.95" stroke-width="1.2"/>
<circle cx="421.2" cy="878.7" r="2.95" stroke-width="1.2"/>
<ellipse cx="322.25" cy="570.5" rx="10.55" ry="10.35" stroke-width="1.6"/>
<ellipse cx="321.85" cy="886.65" rx="10.55" ry="10.35" stroke-width="1.6"/>
</g>
<line x1="627.90" y1="149.00" x2="665.32" y2="127.73" stroke="#000" stroke-width="1.35"/><path d="M675.40,122.00L665.80,132.63L661.35,124.81Z" fill="#000"/>
<line x1="748.60" y1="65.30" x2="717.58" y2="89.98" stroke="#000" stroke-width="1.35"/><path d="M708.50,97.20L716.34,85.21L721.94,92.25Z" fill="#000"/>
<line x1="573.90" y1="454.00" x2="611.64" y2="432.37" stroke="#000" stroke-width="1.35"/><path d="M621.70,426.60L612.14,437.27L607.66,429.46Z" fill="#000"/>
<line x1="694.80" y1="370.30" x2="664.45" y2="393.63" stroke="#000" stroke-width="1.35"/><path d="M655.25,400.70L663.29,388.84L668.78,395.98Z" fill="#000"/>
<line x1="600.25" y1="763.60" x2="638.00" y2="742.30" stroke="#000" stroke-width="1.35"/><path d="M648.10,736.60L638.47,747.20L634.04,739.36Z" fill="#000"/>
<line x1="693.60" y1="679.70" x2="662.61" y2="704.12" stroke="#000" stroke-width="1.35"/><path d="M653.50,711.30L661.40,699.35L666.97,706.42Z" fill="#000"/>
<circle cx="147" cy="211.6" r="2.8" fill="#000"/>
<circle cx="147" cy="499.4" r="3" fill="#000"/>
<circle cx="147.5" cy="759.4" r="3" fill="#000"/>
</svg>
<svg width="1024" height="981" viewBox="0 0 1024 981" style="will-change:transform">
<text transform="translate(6.789,30.752) scale(1.0813,1.0692)" style="font-family:'Liberation Sans',sans-serif;font-weight:bold;font-size:28px">a)</text>
<text transform="translate(6.626,338.130) scale(1.0710,1.0731)" style="font-family:'Liberation Sans',sans-serif;font-weight:bold;font-size:28px">b)</text>
<text transform="translate(6.507,650.452) scale(1.0933,1.0692)" style="font-family:'Liberation Sans',sans-serif;font-weight:bold;font-size:28px">c)</text>
<text transform="translate(42.500,142.938) rotate(-90) scale(0.9688,1.0234)" style="font-family:'Liberation Sans',sans-serif;font-weight:bold;font-size:28px">MHz</text>
<text transform="translate(42.846,159.600) rotate(-90) scale(1.1097,1.0146)" style="font-family:'Liberation Sans',sans-serif;font-size:28px">/</text>
<text transform="translate(55.552,207.289) rotate(-90) scale(1.0593,0.9913)" style="font-family:'Liberation Sans',sans-serif;font-size:21px">res</text>
<text transform="translate(41.500,214.048) rotate(-90) scale(1.0476,0.9877)" style="font-family:'Liberation Sans',sans-serif;font-weight:bold;font-style:italic;font-size:28px">f</text>
<text transform="translate(42.500,452.688) rotate(-90) scale(0.9688,1.0234)" style="font-family:'Liberation Sans',sans-serif;font-weight:bold;font-size:28px">MHz</text>
<text transform="translate(42.846,469.350) rotate(-90) scale(1.1097,1.0146)" style="font-family:'Liberation Sans',sans-serif;font-size:28px">/</text>
<text transform="translate(55.552,517.039) rotate(-90) scale(1.0593,0.9913)" style="font-family:'Liberation Sans',sans-serif;font-size:21px">res</text>
<text transform="translate(41.500,523.798) rotate(-90) scale(1.0476,0.9877)" style="font-family:'Liberation Sans',sans-serif;font-weight:bold;font-style:italic;font-size:28px">f</text>
<text transform="translate(42.500,764.938) rotate(-90) scale(0.9688,1.0234)" style="font-family:'Liberation Sans',sans-serif;font-weight:bold;font-size:28px">MHz</text>
<text transform="translate(42.846,781.600) rotate(-90) scale(1.1097,1.0146)" style="font-family:'Liberation Sans',sans-serif;font-size:28px">/</text>
<text transform="translate(55.552,829.289) rotate(-90) scale(1.0593,0.9913)" style="font-family:'Liberation Sans',sans-serif;font-size:21px">res</text>
<text transform="translate(41.500,836.048) rotate(-90) scale(1.0476,0.9877)" style="font-family:'Liberation Sans',sans-serif;font-weight:bold;font-style:italic;font-size:28px">f</text>
<text transform="translate(530.118,970.800) scale(0.9412,1.0338)" style="font-family:'Liberation Sans',sans-serif;font-weight:bold;font-style:italic;font-size:28px">T</text>
<text transform="translate(552.791,970.320) scale(0.7911,0.9590)" style="font-family:'Liberation Sans',sans-serif;font-weight:bold;font-style:italic;font-size:28px">/</text>
<text transform="translate(579.674,970.938) scale(0.9808,1.0481)" style="font-family:'Liberation Sans',sans-serif;font-weight:bold;font-size:28px">C</text>
<text transform="translate(157.197,269.556) scale(1.0053,0.9756)" style="font-family:'Liberation Sans',sans-serif;font-weight:bold;font-size:28px">fresh</text>
<text transform="translate(157.460,577.486) scale(0.9863,0.9524)" style="font-family:'Liberation Sans',sans-serif;font-weight:bold;font-size:28px">aging state</text>
<text transform="translate(157.460,893.686) scale(0.9863,0.9524)" style="font-family:'Liberation Sans',sans-serif;font-weight:bold;font-size:28px">aging state</text>
<text transform="translate(339.911,577.094) scale(0.9925,0.9923)" style="font-family:'Liberation Sans',sans-serif;font-weight:bold;font-size:28px">(850</text>
<text transform="translate(413.361,576.857) scale(0.9910,0.9905)" style="font-family:'Liberation Sans',sans-serif;font-weight:bold;font-size:28px">C aged)</text>
<text transform="translate(337.520,893.228) scale(0.9870,1.0038)" style="font-family:'Liberation Sans',sans-serif;font-weight:bold;font-size:28px">(1050</text>
<text transform="translate(426.769,893.180) scale(0.9850,0.9867)" style="font-family:'Liberation Sans',sans-serif;font-weight:bold;font-size:28px">C aged)</text>
<text transform="translate(316.942,575.800) scale(1.1667,1.0762)" style="font-family:'Liberation Serif',serif;font-weight:bold;font-size:16px">1</text>
<text transform="translate(316.654,892.000) scale(1.2615,1.1619)" style="font-family:'Liberation Serif',serif;font-weight:bold;font-size:16px">2</text>
<text transform="translate(445.617,171.656) scale(1.1339,1.0098)" style="font-family:'Liberation Sans',sans-serif;font-size:22px">λ = 0.98, stationary</text>
<text transform="translate(755.217,76.000) scale(1.1339,1.0000)" style="font-family:'Liberation Sans',sans-serif;font-size:22px">λ = 1.02, stationary</text>
<text transform="translate(403.316,476.780) scale(1.1355,1.0488)" style="font-family:'Liberation Sans',sans-serif;font-size:22px">λ = 0.98, stationary</text>
<text transform="translate(700.217,380.834) scale(1.1339,1.0146)" style="font-family:'Liberation Sans',sans-serif;font-size:22px">λ = 1.02, stationary</text>
<text transform="translate(420.216,786.859) scale(1.1344,1.0537)" style="font-family:'Liberation Sans',sans-serif;font-size:22px">λ = 0.98, stationary</text>
<text transform="translate(699.916,689.634) scale(1.1344,1.0146)" style="font-family:'Liberation Sans',sans-serif;font-size:22px">λ = 1.02, stationary</text>
<text transform="translate(72.185,33.157) scale(1.0150,0.9722)" style="font-family:'Liberation Sans',sans-serif;font-weight:bold;font-size:28px">5450</text>
<text transform="translate(72.185,85.497) scale(1.0150,0.9722)" style="font-family:'Liberation Sans',sans-serif;font-weight:bold;font-size:28px">5430</text>
<text transform="translate(72.185,137.837) scale(1.0150,0.9722)" style="font-family:'Liberation Sans',sans-serif;font-weight:bold;font-size:28px">5410</text>
<text transform="translate(72.185,190.177) scale(1.0150,0.9722)" style="font-family:'Liberation Sans',sans-serif;font-weight:bold;font-size:28px">5390</text>
<text transform="translate(72.185,242.517) scale(1.0150,0.9722)" style="font-family:'Liberation Sans',sans-serif;font-weight:bold;font-size:28px">5370</text>
<text transform="translate(72.185,294.857) scale(1.0150,0.9722)" style="font-family:'Liberation Sans',sans-serif;font-weight:bold;font-size:28px">5350</text>
<text transform="translate(72.185,342.907) scale(1.0150,0.9722)" style="font-family:'Liberation Sans',sans-serif;font-weight:bold;font-size:28px">5450</text>
<text transform="translate(72.185,395.307) scale(1.0150,0.9722)" style="font-family:'Liberation Sans',sans-serif;font-weight:bold;font-size:28px">5430</text>
<text transform="translate(72.185,447.707) scale(1.0150,0.9722)" style="font-family:'Liberation Sans',sans-serif;font-weight:bold;font-size:28px">5410</text>
<text transform="translate(72.185,500.107) scale(1.0150,0.9722)" style="font-family:'Liberation Sans',sans-serif;font-weight:bold;font-size:28px">5390</text>
<text transform="translate(72.185,552.507) scale(1.0150,0.9722)" style="font-family:'Liberation Sans',sans-serif;font-weight:bold;font-size:28px">5370</text>
<text transform="translate(72.185,604.907) scale(1.0150,0.9722)" style="font-family:'Liberation Sans',sans-serif;font-weight:bold;font-size:28px">5350</text>
<text transform="translate(72.185,656.157) scale(1.0150,0.9722)" style="font-family:'Liberation Sans',sans-serif;font-weight:bold;font-size:28px">5450</text>
<text transform="translate(72.185,708.337) scale(1.0150,0.9722)" style="font-family:'Liberation Sans',sans-serif;font-weight:bold;font-size:28px">5430</text>
<text transform="translate(72.185,760.517) scale(1.0150,0.9722)" style="font-family:'Liberation Sans',sans-serif;font-weight:bold;font-size:28px">5410</text>
<text transform="translate(72.185,812.697) scale(1.0150,0.9722)" style="font-family:'Liberation Sans',sans-serif;font-weight:bold;font-size:28px">5390</text>
<text transform="translate(72.185,864.877) scale(1.0150,0.9722)" style="font-family:'Liberation Sans',sans-serif;font-weight:bold;font-size:28px">5370</text>
<text transform="translate(72.185,917.057) scale(1.0150,0.9722)" style="font-family:'Liberation Sans',sans-serif;font-weight:bold;font-size:28px">5350</text>
<text transform="translate(153.304,937.448) scale(1.0263,1.0076)" style="font-family:'Liberation Sans',sans-serif;font-weight:bold;font-size:28px">100</text>
<text transform="translate(318.382,937.448) scale(1.0180,1.0076)" style="font-family:'Liberation Sans',sans-serif;font-weight:bold;font-size:28px">200</text>
<text transform="translate(481.236,937.448) scale(1.0190,1.0076)" style="font-family:'Liberation Sans',sans-serif;font-weight:bold;font-size:28px">300</text>
<text transform="translate(646.309,937.448) scale(0.9822,1.0076)" style="font-family:'Liberation Sans',sans-serif;font-weight:bold;font-size:28px">400</text>
<text transform="translate(807.609,937.448) scale(0.9910,1.0076)" style="font-family:'Liberation Sans',sans-serif;font-weight:bold;font-size:28px">500</text>
<text transform="translate(972.025,937.448) scale(0.9753,1.0076)" style="font-family:'Liberation Sans',sans-serif;font-weight:bold;font-size:28px">600</text>
</svg></body></html>
